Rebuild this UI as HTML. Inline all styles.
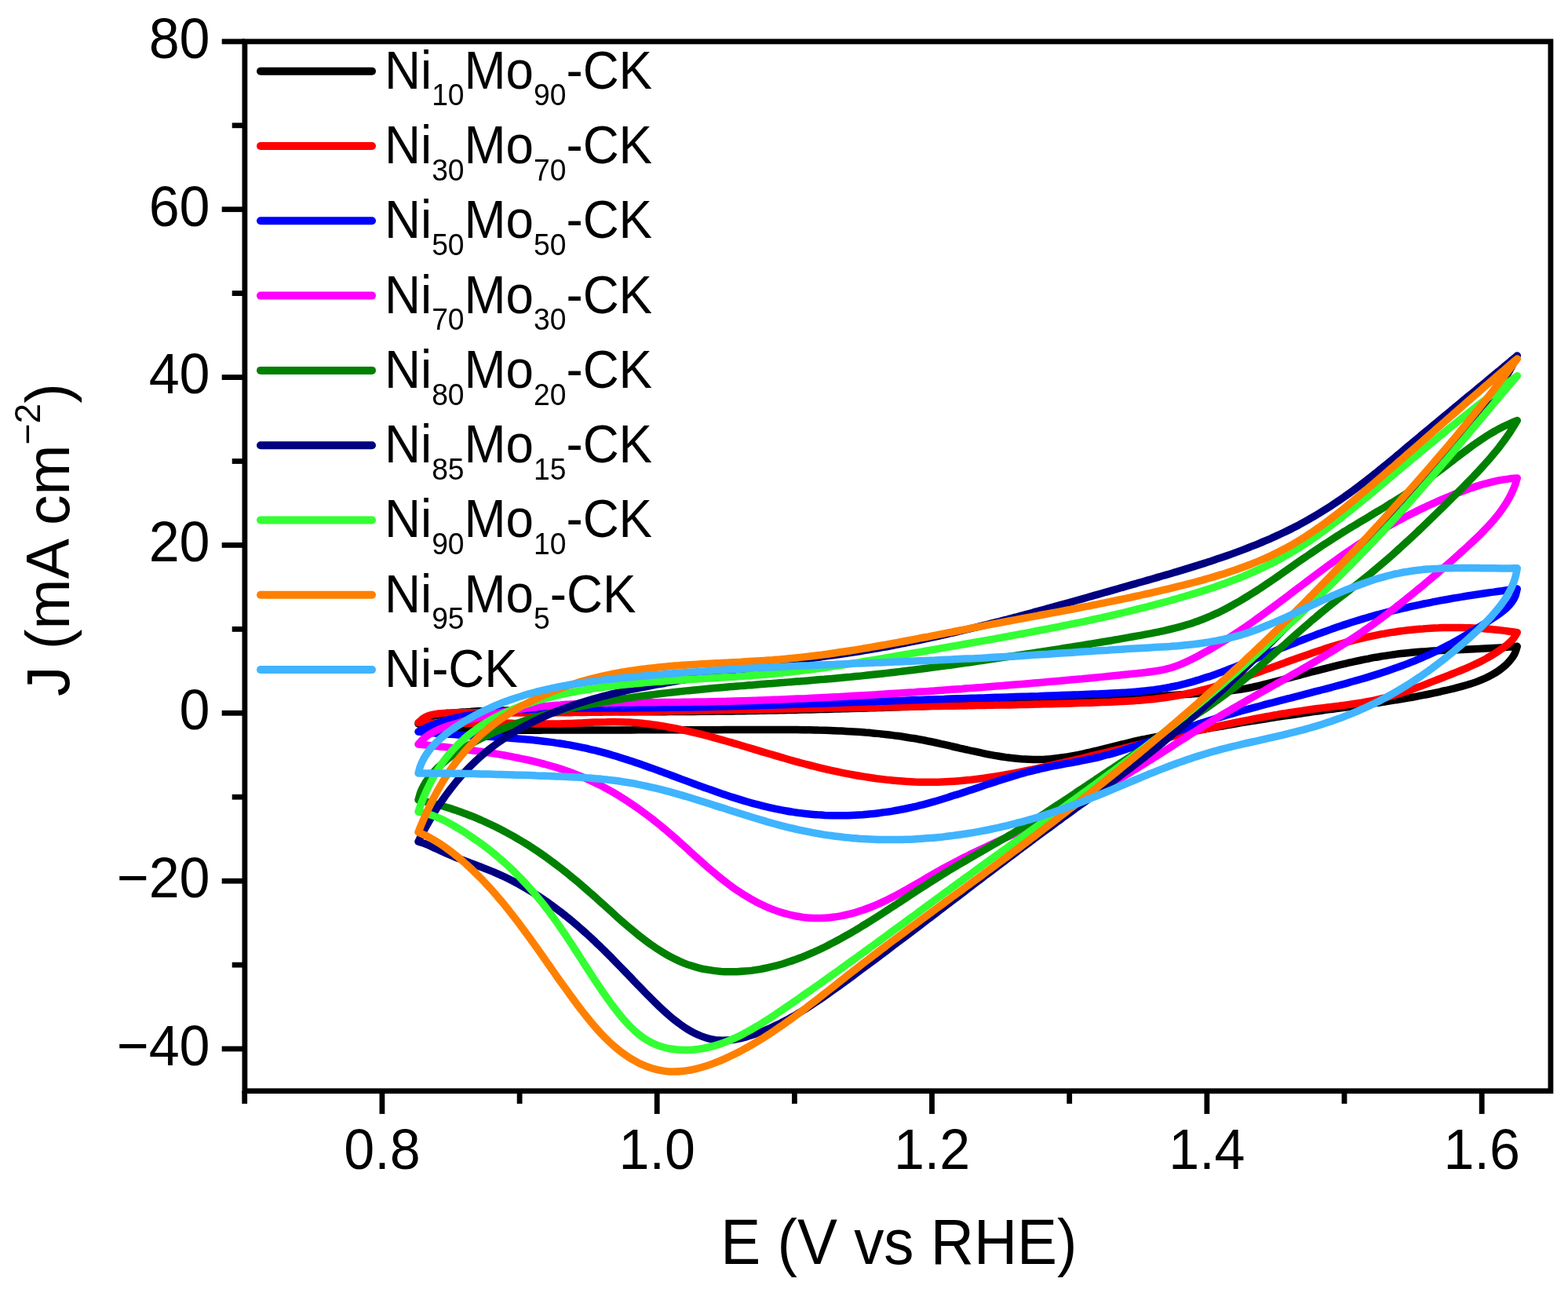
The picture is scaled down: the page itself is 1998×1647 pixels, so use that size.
<!DOCTYPE html>
<html lang="en"><head><meta charset="utf-8"><title>CV curves</title>
<style>html,body{margin:0;padding:0;background:#fff}body{width:1998px;height:1647px;overflow:hidden}svg{display:block}text{font-family:"Liberation Sans",Arial,Helvetica,sans-serif;fill:#000}.c{fill:none;stroke-width:9.5;stroke-linejoin:round;stroke-linecap:round}.a{stroke:#000;stroke-width:6.8;fill:none}.t{font-size:70px}.l{font-size:65px}.s{font-size:38px}.x{font-size:80px}</style></head><body>
<svg xmlns="http://www.w3.org/2000/svg" width="1998" height="1647" viewBox="0 0 1998 1647">
<rect width="1998" height="1647" fill="#fff"/>
<g class="c">
<path stroke="#000000" d="M533.0 922.0C535.9 920.0 538.5 917.5 541.6 915.9C544.5 914.4 547.6 913.4 550.7 912.5C553.8 911.6 557.0 911.2 560.2 910.6C563.4 910.1 566.6 909.6 569.8 909.2C573.0 908.8 576.3 908.4 579.5 908.0C582.8 907.7 586.0 907.4 589.3 907.1C592.6 906.8 595.9 906.6 599.2 906.4C602.5 906.1 605.8 906.0 609.1 905.8C612.4 905.6 615.8 905.5 619.1 905.4C622.5 905.3 625.8 905.2 629.2 905.2C632.5 905.1 635.9 905.1 639.3 905.0C642.7 905.0 646.1 905.0 649.4 905.0C652.8 905.0 656.2 905.0 659.6 905.1C663.0 905.1 666.4 905.1 669.8 905.2C673.2 905.2 676.6 905.3 680.0 905.3C683.5 905.4 686.9 905.5 690.3 905.5C693.7 905.6 697.1 905.6 700.5 905.7C703.9 905.8 707.3 905.8 710.7 905.9C714.1 905.9 717.5 906.0 720.9 906.0C724.3 906.1 727.7 906.1 731.1 906.2C734.5 906.2 737.9 906.2 741.3 906.3C744.7 906.3 748.1 906.4 751.5 906.4C754.9 906.4 758.3 906.5 761.7 906.5C765.1 906.5 768.5 906.5 771.9 906.6C775.2 906.6 778.6 906.6 782.0 906.6C785.4 906.6 788.8 906.6 792.2 906.7C795.6 906.7 798.9 906.7 802.3 906.7C805.7 906.7 809.1 906.7 812.5 906.7C815.8 906.7 819.2 906.7 822.6 906.7C826.0 906.7 829.3 906.7 832.7 906.7C836.1 906.7 839.5 906.7 842.8 906.7C846.2 906.7 849.6 906.6 853.0 906.6C856.3 906.6 859.7 906.6 863.1 906.6C866.4 906.6 869.8 906.5 873.2 906.5C876.5 906.5 879.9 906.5 883.3 906.4C886.6 906.4 890.0 906.4 893.4 906.3C896.7 906.3 900.1 906.3 903.5 906.2C906.8 906.2 910.2 906.2 913.5 906.1C916.9 906.1 920.3 906.0 923.6 906.0C927.0 905.9 930.3 905.9 933.7 905.9C937.0 905.8 940.4 905.8 943.8 905.7C947.1 905.7 950.5 905.6 953.8 905.5C957.2 905.5 960.5 905.4 963.9 905.4C967.2 905.3 970.6 905.3 973.9 905.2C977.3 905.1 980.7 905.1 984.0 905.0C987.4 904.9 990.7 904.9 994.1 904.8C997.4 904.7 1000.8 904.7 1004.1 904.6C1007.5 904.5 1010.8 904.4 1014.2 904.4C1017.5 904.3 1020.8 904.2 1024.2 904.1C1027.5 904.1 1030.9 904.0 1034.2 903.9C1037.6 903.8 1040.9 903.7 1044.3 903.6C1047.6 903.6 1051.0 903.5 1054.3 903.4C1057.7 903.3 1061.0 903.2 1064.3 903.1C1067.7 903.0 1071.0 902.9 1074.4 902.8C1077.7 902.7 1081.1 902.7 1084.4 902.6C1087.8 902.5 1091.1 902.4 1094.4 902.3C1097.8 902.2 1101.1 902.1 1104.5 902.0C1107.8 901.9 1111.2 901.8 1114.5 901.7C1117.8 901.6 1121.2 901.5 1124.5 901.4C1127.9 901.2 1131.2 901.1 1134.6 901.0C1137.9 900.9 1141.2 900.8 1144.6 900.7C1147.9 900.6 1151.3 900.5 1154.6 900.4C1158.0 900.3 1161.3 900.1 1164.6 900.0C1168.0 899.9 1171.3 899.8 1174.7 899.7C1178.0 899.6 1181.4 899.5 1184.7 899.3C1188.0 899.2 1191.4 899.1 1194.7 899.0C1198.1 898.9 1201.4 898.7 1204.8 898.6C1208.1 898.5 1211.4 898.4 1214.8 898.3C1218.1 898.1 1221.5 898.0 1224.8 897.9C1228.2 897.8 1231.5 897.6 1234.8 897.5C1238.2 897.4 1241.5 897.3 1244.9 897.1C1248.2 897.0 1251.6 896.9 1254.9 896.8C1258.3 896.6 1261.6 896.5 1265.0 896.4C1268.3 896.2 1271.7 896.1 1275.0 896.0C1278.3 895.9 1281.7 895.7 1285.0 895.6C1288.4 895.5 1291.7 895.3 1295.1 895.2C1298.4 895.1 1301.8 894.9 1305.1 894.8C1308.5 894.7 1311.8 894.5 1315.2 894.4C1318.5 894.3 1321.9 894.1 1325.3 894.0C1328.6 893.9 1332.0 893.7 1335.3 893.6C1338.7 893.4 1342.0 893.3 1345.4 893.2C1348.7 893.0 1352.1 892.9 1355.4 892.7C1358.8 892.6 1362.1 892.4 1365.5 892.3C1368.8 892.2 1372.2 892.0 1375.5 891.9C1378.9 891.7 1382.2 891.6 1385.6 891.4C1388.9 891.3 1392.3 891.1 1395.7 890.9C1399.0 890.8 1402.4 890.6 1405.7 890.5C1409.1 890.3 1412.4 890.1 1415.8 890.0C1419.1 889.8 1422.5 889.7 1425.8 889.5C1429.2 889.3 1432.5 889.1 1435.9 889.0C1439.2 888.8 1442.5 888.6 1445.9 888.4C1449.2 888.2 1452.6 888.1 1455.9 887.9C1459.3 887.7 1462.6 887.5 1466.0 887.3C1469.3 887.1 1472.7 886.9 1476.0 886.7C1479.3 886.5 1482.7 886.3 1486.0 886.1C1489.4 885.9 1492.7 885.7 1496.0 885.5C1499.4 885.3 1502.7 885.1 1506.0 884.8C1509.4 884.6 1512.7 884.4 1516.0 884.2C1519.4 883.9 1522.7 883.7 1526.0 883.5C1529.4 883.2 1532.7 883.0 1536.0 882.7C1539.3 882.5 1542.7 882.3 1546.0 882.0C1549.3 881.7 1552.6 881.5 1556.0 881.2C1559.3 880.9 1562.6 880.5 1565.9 880.2C1569.2 879.8 1572.6 879.4 1575.9 878.9C1579.2 878.4 1582.5 877.9 1585.8 877.3C1589.1 876.7 1592.4 876.1 1595.7 875.3C1599.0 874.6 1602.3 873.8 1605.6 873.0C1608.9 872.2 1612.2 871.4 1615.5 870.6C1618.8 869.7 1622.1 868.9 1625.4 868.0C1628.7 867.2 1632.0 866.3 1635.3 865.5C1638.6 864.6 1641.9 863.7 1645.2 862.9C1648.4 862.0 1651.7 861.1 1655.0 860.3C1658.3 859.4 1661.6 858.5 1664.9 857.7C1668.1 856.8 1671.4 855.9 1674.7 855.1C1678.0 854.2 1681.3 853.4 1684.6 852.6C1687.8 851.7 1691.1 850.9 1694.4 850.1C1697.7 849.3 1701.0 848.5 1704.2 847.7C1707.5 846.9 1710.8 846.1 1714.1 845.3C1717.4 844.6 1720.6 843.8 1723.9 843.1C1727.2 842.4 1730.5 841.7 1733.8 841.0C1737.0 840.3 1740.3 839.7 1743.6 839.1C1746.9 838.4 1750.2 837.8 1753.5 837.2C1756.7 836.7 1760.0 836.1 1763.3 835.6C1766.6 835.1 1769.9 834.6 1773.2 834.1C1776.5 833.6 1779.8 833.2 1783.1 832.8C1786.4 832.4 1789.7 832.1 1793.0 831.7C1796.3 831.4 1799.6 831.1 1802.9 830.8C1806.2 830.5 1809.5 830.2 1812.8 830.0C1816.1 829.8 1819.4 829.5 1822.7 829.3C1826.0 829.1 1829.3 828.9 1832.7 828.7C1836.0 828.6 1839.3 828.4 1842.6 828.2C1845.9 828.1 1849.3 827.9 1852.6 827.8C1855.9 827.6 1859.3 827.5 1862.6 827.4C1865.9 827.2 1869.3 827.1 1872.6 826.9C1876.0 826.8 1879.3 826.7 1882.7 826.5C1886.0 826.3 1889.4 826.2 1892.7 826.0C1896.1 825.9 1899.5 825.7 1902.8 825.5C1906.2 825.3 1909.6 825.1 1913.0 824.9C1916.4 824.6 1919.7 824.4 1923.1 824.1C1926.5 823.9 1929.9 823.6 1933.3 823.3C1932.2 826.4 1931.6 829.7 1930.1 832.6C1928.7 835.5 1926.7 838.2 1924.6 840.8C1922.6 843.3 1920.2 845.7 1917.8 847.9C1915.4 850.0 1912.8 852.1 1910.1 854.0C1907.4 855.9 1904.6 857.6 1901.8 859.2C1898.9 860.9 1895.9 862.4 1892.9 863.8C1889.9 865.2 1886.8 866.4 1883.7 867.6C1880.5 868.9 1877.3 870.0 1874.0 871.0C1870.8 872.1 1867.5 873.0 1864.2 873.9C1860.9 874.9 1857.5 875.7 1854.2 876.6C1850.8 877.4 1847.5 878.2 1844.2 879.0C1840.8 879.8 1837.5 880.6 1834.2 881.3C1830.8 882.0 1827.5 882.7 1824.2 883.4C1820.8 884.1 1817.5 884.8 1814.2 885.4C1810.8 886.1 1807.5 886.7 1804.2 887.3C1800.9 887.9 1797.5 888.5 1794.2 889.1C1790.9 889.7 1787.6 890.3 1784.2 890.8C1780.9 891.4 1777.6 891.9 1774.3 892.4C1771.0 892.9 1767.7 893.5 1764.3 894.0C1761.0 894.5 1757.7 894.9 1754.4 895.4C1751.1 895.9 1747.8 896.4 1744.5 896.9C1741.2 897.3 1737.9 897.8 1734.5 898.2C1731.2 898.7 1727.9 899.2 1724.6 899.6C1721.3 900.1 1718.0 900.5 1714.7 901.0C1711.4 901.4 1708.1 901.8 1704.8 902.3C1701.5 902.7 1698.2 903.2 1694.9 903.6C1691.6 904.1 1688.3 904.6 1685.0 905.0C1681.7 905.5 1678.5 905.9 1675.2 906.4C1671.9 906.9 1668.6 907.3 1665.3 907.8C1662.0 908.3 1658.7 908.7 1655.4 909.2C1652.1 909.7 1648.8 910.2 1645.6 910.7C1642.3 911.1 1639.0 911.6 1635.7 912.1C1632.4 912.6 1629.1 913.1 1625.8 913.6C1622.6 914.1 1619.3 914.6 1616.0 915.2C1612.7 915.7 1609.4 916.2 1606.2 916.7C1602.9 917.2 1599.6 917.8 1596.3 918.3C1593.0 918.8 1589.8 919.4 1586.5 919.9C1583.2 920.5 1579.9 921.0 1576.7 921.6C1573.4 922.1 1570.1 922.7 1566.8 923.3C1563.5 923.8 1560.3 924.4 1557.0 925.0C1553.7 925.6 1550.4 926.1 1547.2 926.7C1543.9 927.3 1540.6 927.8 1537.3 928.4C1534.1 929.0 1530.8 929.5 1527.5 930.1C1524.3 930.6 1521.0 931.2 1517.7 931.7C1514.4 932.2 1511.2 932.8 1507.9 933.3C1504.6 933.8 1501.3 934.3 1498.1 934.8C1494.8 935.3 1491.5 935.7 1488.3 936.2C1485.0 936.7 1481.7 937.2 1478.4 937.7C1475.2 938.3 1471.9 938.8 1468.6 939.4C1465.3 940.0 1462.1 940.7 1458.8 941.4C1455.5 942.0 1452.2 942.8 1449.0 943.5C1445.7 944.2 1442.4 945.0 1439.2 945.8C1435.9 946.6 1432.6 947.4 1429.3 948.2C1426.1 949.0 1422.8 949.8 1419.5 950.7C1416.2 951.5 1413.0 952.3 1409.7 953.1C1406.4 953.9 1403.1 954.8 1399.9 955.6C1396.6 956.4 1393.3 957.1 1390.0 957.9C1386.7 958.6 1383.5 959.4 1380.2 960.1C1376.9 960.8 1373.6 961.5 1370.3 962.1C1367.1 962.7 1363.8 963.3 1360.5 963.9C1357.2 964.4 1353.9 964.9 1350.7 965.3C1347.4 965.7 1344.1 966.1 1340.8 966.4C1337.5 966.8 1334.2 967.0 1330.9 967.2C1327.7 967.3 1324.4 967.4 1321.1 967.5C1317.8 967.5 1314.5 967.4 1311.2 967.3C1307.9 967.2 1304.6 967.0 1301.3 966.8C1298.0 966.5 1294.8 966.2 1291.5 965.8C1288.2 965.5 1284.9 965.0 1281.6 964.6C1278.3 964.1 1275.0 963.6 1271.7 963.0C1268.4 962.5 1265.1 961.9 1261.8 961.3C1258.5 960.7 1255.2 960.0 1251.9 959.3C1248.6 958.7 1245.3 957.9 1242.0 957.2C1238.7 956.5 1235.4 955.8 1232.1 955.0C1228.8 954.3 1225.5 953.5 1222.2 952.8C1218.9 952.0 1215.6 951.2 1212.3 950.5C1209.0 949.7 1205.7 949.0 1202.3 948.2C1199.0 947.5 1195.7 946.7 1192.4 946.0C1189.1 945.3 1185.8 944.6 1182.5 944.0C1179.2 943.3 1175.9 942.6 1172.6 942.0C1169.2 941.4 1165.9 940.8 1162.6 940.3C1159.3 939.7 1156.0 939.2 1152.7 938.7C1149.4 938.2 1146.0 937.7 1142.7 937.3C1139.4 936.9 1136.1 936.4 1132.8 936.0C1129.5 935.6 1126.1 935.3 1122.8 934.9C1119.5 934.6 1116.2 934.2 1112.9 933.9C1109.6 933.6 1106.2 933.3 1102.9 933.1C1099.6 932.8 1096.3 932.5 1093.0 932.3C1089.6 932.1 1086.3 931.9 1083.0 931.7C1079.7 931.5 1076.3 931.3 1073.0 931.1C1069.7 931.0 1066.4 930.8 1063.0 930.7C1059.7 930.6 1056.4 930.4 1053.1 930.3C1049.7 930.2 1046.4 930.1 1043.1 930.1C1039.8 930.0 1036.4 929.9 1033.1 929.8C1029.8 929.8 1026.5 929.7 1023.1 929.7C1019.8 929.6 1016.5 929.6 1013.2 929.6C1009.8 929.5 1006.5 929.5 1003.2 929.5C999.8 929.5 996.5 929.5 993.2 929.5C989.8 929.5 986.5 929.5 983.2 929.5C979.9 929.5 976.5 929.5 973.2 929.5C969.9 929.5 966.5 929.5 963.2 929.5C959.9 929.5 956.5 929.5 953.2 929.6C949.9 929.6 946.5 929.6 943.2 929.6C939.9 929.6 936.5 929.6 933.2 929.6C929.9 929.6 926.5 929.6 923.2 929.6C919.9 929.6 916.5 929.6 913.2 929.7C909.9 929.7 906.5 929.7 903.2 929.7C899.9 929.7 896.5 929.7 893.2 929.7C889.9 929.7 886.5 929.7 883.2 929.7C879.8 929.7 876.5 929.7 873.2 929.7C869.8 929.7 866.5 929.7 863.2 929.8C859.8 929.8 856.5 929.8 853.2 929.8C849.8 929.8 846.5 929.8 843.1 929.8C839.8 929.8 836.5 929.8 833.1 929.8C829.8 929.8 826.5 929.8 823.1 929.8C819.8 929.8 816.4 929.8 813.1 929.8C809.8 929.9 806.4 929.9 803.1 929.9C799.8 929.9 796.4 929.9 793.1 929.9C789.7 929.9 786.4 929.9 783.1 929.9C779.7 929.9 776.4 929.9 773.1 929.9C769.7 929.9 766.4 929.9 763.0 929.9C759.7 930.0 756.4 930.0 753.0 930.0C749.7 930.0 746.4 930.0 743.0 930.0C739.7 930.0 736.3 930.0 733.0 930.0C729.7 930.0 726.3 930.0 723.0 930.0C719.7 930.1 716.3 930.1 713.0 930.1C709.6 930.1 706.3 930.1 703.0 930.1C699.6 930.1 696.3 930.1 693.0 930.1C689.6 930.1 686.3 930.2 683.0 930.2C679.6 930.2 676.3 930.2 672.9 930.2C669.6 930.2 666.3 930.2 662.9 930.2C659.6 930.2 656.3 930.2 652.9 930.2C649.6 930.2 646.3 930.2 642.9 930.2C639.6 930.2 636.3 930.1 632.9 930.1C629.6 930.0 626.3 930.0 622.9 929.9C619.6 929.8 616.3 929.7 612.9 929.6C609.6 929.5 606.3 929.4 602.9 929.2C599.6 929.1 596.3 928.9 592.9 928.7C589.6 928.5 586.3 928.3 582.9 928.1C579.6 927.8 576.3 927.5 572.9 927.2C569.6 926.9 566.3 926.6 563.0 926.2C559.6 925.9 556.3 925.5 553.0 925.0C549.6 924.6 546.3 924.1 543.0 923.6C539.6 923.1 536.3 922.5 533.0 922.0Z"/>
<path stroke="#ff0000" d="M533.0 920.5C535.6 918.4 537.9 915.7 540.8 914.1C543.5 912.5 546.6 911.4 549.7 910.6C552.8 909.7 556.0 909.3 559.2 908.9C562.5 908.5 565.9 908.3 569.2 908.1C572.6 907.9 576.0 907.8 579.4 907.7C582.8 907.7 586.2 907.7 589.7 907.7C593.1 907.7 596.6 907.7 600.0 907.8C603.5 907.8 606.9 907.9 610.4 907.9C613.8 907.9 617.2 907.9 620.6 908.0C624.1 908.0 627.5 908.0 630.9 908.0C634.3 908.0 637.7 908.0 641.1 908.1C644.4 908.1 647.8 908.1 651.2 908.1C654.6 908.1 658.0 908.1 661.3 908.1C664.7 908.1 668.0 908.1 671.4 908.0C674.8 908.0 678.1 908.0 681.5 908.0C684.8 908.0 688.1 908.0 691.5 907.9C694.8 907.9 698.1 907.9 701.5 907.9C704.8 907.8 708.1 907.8 711.5 907.8C714.8 907.8 718.1 907.7 721.4 907.7C724.7 907.7 728.1 907.6 731.4 907.6C734.7 907.5 738.0 907.5 741.3 907.5C744.6 907.4 747.9 907.4 751.2 907.3C754.6 907.3 757.9 907.2 761.2 907.2C764.5 907.2 767.8 907.1 771.1 907.1C774.4 907.0 777.7 907.0 781.0 906.9C784.3 906.9 787.7 906.8 791.0 906.8C794.3 906.7 797.6 906.6 800.9 906.6C804.2 906.5 807.6 906.5 810.9 906.4C814.2 906.4 817.5 906.3 820.8 906.3C824.2 906.2 827.5 906.2 830.8 906.1C834.2 906.1 837.5 906.0 840.8 905.9C844.2 905.9 847.5 905.8 850.8 905.8C854.2 905.7 857.5 905.7 860.8 905.6C864.2 905.5 867.5 905.5 870.9 905.4C874.2 905.4 877.6 905.3 880.9 905.3C884.2 905.2 887.6 905.1 890.9 905.1C894.3 905.0 897.6 905.0 901.0 904.9C904.3 904.8 907.7 904.8 911.0 904.7C914.4 904.7 917.8 904.6 921.1 904.5C924.5 904.5 927.8 904.4 931.2 904.4C934.5 904.3 937.9 904.2 941.3 904.2C944.6 904.1 948.0 904.1 951.3 904.0C954.7 903.9 958.1 903.9 961.4 903.8C964.8 903.7 968.2 903.7 971.5 903.6C974.9 903.6 978.3 903.5 981.6 903.4C985.0 903.4 988.4 903.3 991.7 903.2C995.1 903.2 998.5 903.1 1001.8 903.1C1005.2 903.0 1008.6 902.9 1012.0 902.9C1015.3 902.8 1018.7 902.7 1022.1 902.7C1025.4 902.6 1028.8 902.6 1032.2 902.5C1035.6 902.4 1038.9 902.4 1042.3 902.3C1045.7 902.2 1049.1 902.2 1052.4 902.1C1055.8 902.1 1059.2 902.0 1062.6 901.9C1065.9 901.9 1069.3 901.8 1072.7 901.7C1076.1 901.7 1079.4 901.6 1082.8 901.5C1086.2 901.5 1089.6 901.4 1092.9 901.4C1096.3 901.3 1099.7 901.2 1103.1 901.2C1106.4 901.1 1109.8 901.0 1113.2 901.0C1116.6 900.9 1119.9 900.9 1123.3 900.8C1126.7 900.7 1130.1 900.7 1133.4 900.6C1136.8 900.5 1140.2 900.5 1143.5 900.4C1146.9 900.4 1150.3 900.3 1153.7 900.2C1157.0 900.2 1160.4 900.1 1163.8 900.1C1167.2 900.0 1170.5 899.9 1173.9 899.9C1177.3 899.8 1180.6 899.8 1184.0 899.7C1187.4 899.6 1190.7 899.6 1194.1 899.5C1197.5 899.5 1200.8 899.4 1204.2 899.3C1207.6 899.3 1210.9 899.2 1214.3 899.2C1217.7 899.1 1221.0 899.0 1224.4 899.0C1227.8 898.9 1231.1 898.9 1234.5 898.8C1237.8 898.7 1241.2 898.7 1244.6 898.6C1247.9 898.6 1251.3 898.5 1254.6 898.4C1258.0 898.4 1261.3 898.3 1264.7 898.3C1268.0 898.2 1271.4 898.1 1274.7 898.1C1278.1 898.0 1281.4 897.9 1284.8 897.9C1288.1 897.8 1291.5 897.7 1294.8 897.7C1298.2 897.6 1301.5 897.5 1304.9 897.4C1308.2 897.4 1311.5 897.3 1314.9 897.2C1318.2 897.1 1321.6 897.1 1324.9 897.0C1328.2 896.9 1331.6 896.8 1334.9 896.7C1338.2 896.7 1341.6 896.6 1344.9 896.5C1348.2 896.4 1351.5 896.3 1354.9 896.2C1358.2 896.1 1361.5 896.0 1364.8 895.9C1368.2 895.8 1371.5 895.7 1374.8 895.6C1378.1 895.5 1381.4 895.4 1384.8 895.3C1388.1 895.2 1391.4 895.1 1394.7 895.0C1398.0 894.9 1401.3 894.8 1404.6 894.6C1407.9 894.5 1411.2 894.4 1414.5 894.3C1417.8 894.1 1421.1 894.0 1424.4 893.8C1427.7 893.7 1431.0 893.5 1434.3 893.3C1437.6 893.1 1440.9 892.9 1444.1 892.7C1447.4 892.5 1450.7 892.2 1454.0 892.0C1457.3 891.7 1460.6 891.4 1463.8 891.1C1467.1 890.8 1470.4 890.4 1473.6 890.0C1476.9 889.6 1480.2 889.2 1483.4 888.8C1486.7 888.3 1490.0 887.8 1493.2 887.3C1496.5 886.7 1499.8 886.2 1503.0 885.5C1506.3 884.9 1509.5 884.2 1512.8 883.5C1516.0 882.8 1519.2 882.1 1522.5 881.3C1525.7 880.6 1529.0 879.7 1532.2 878.9C1535.4 878.1 1538.7 877.2 1541.9 876.3C1545.2 875.4 1548.4 874.4 1551.6 873.5C1554.8 872.5 1558.1 871.5 1561.3 870.5C1564.5 869.5 1567.7 868.5 1571.0 867.4C1574.2 866.4 1577.4 865.3 1580.6 864.2C1583.9 863.2 1587.1 862.0 1590.3 860.9C1593.5 859.8 1596.7 858.7 1599.9 857.6C1603.2 856.4 1606.4 855.3 1609.6 854.1C1612.8 853.0 1616.0 851.8 1619.2 850.7C1622.4 849.5 1625.7 848.3 1628.9 847.2C1632.1 846.0 1635.3 844.8 1638.5 843.7C1641.7 842.5 1644.9 841.4 1648.2 840.2C1651.4 839.1 1654.6 837.9 1657.8 836.8C1661.0 835.6 1664.2 834.5 1667.4 833.4C1670.7 832.3 1673.9 831.2 1677.1 830.1C1680.3 829.0 1683.5 828.0 1686.7 826.9C1690.0 825.9 1693.2 824.8 1696.4 823.8C1699.6 822.8 1702.8 821.9 1706.1 820.9C1709.3 820.0 1712.5 819.0 1715.7 818.1C1719.0 817.2 1722.2 816.4 1725.4 815.5C1728.7 814.7 1731.9 813.9 1735.1 813.1C1738.4 812.3 1741.6 811.6 1744.8 810.9C1748.1 810.2 1751.3 809.5 1754.6 808.9C1757.8 808.2 1761.0 807.6 1764.3 807.1C1767.5 806.5 1770.8 806.0 1774.1 805.4C1777.3 804.9 1780.6 804.5 1783.8 804.0C1787.1 803.6 1790.3 803.2 1793.6 802.8C1796.9 802.4 1800.2 802.0 1803.4 801.7C1806.7 801.4 1810.0 801.1 1813.3 800.9C1816.5 800.6 1819.8 800.4 1823.1 800.2C1826.4 800.0 1829.7 799.9 1833.0 799.8C1836.3 799.6 1839.6 799.6 1842.9 799.5C1846.2 799.4 1849.5 799.4 1852.8 799.4C1856.1 799.4 1859.4 799.5 1862.8 799.5C1866.1 799.6 1869.4 799.7 1872.7 799.8C1876.1 800.0 1879.4 800.1 1882.8 800.3C1886.1 800.5 1889.5 800.7 1892.8 801.0C1896.2 801.3 1899.5 801.5 1902.9 801.9C1906.2 802.2 1909.6 802.5 1913.0 802.9C1916.4 803.3 1919.7 803.7 1923.1 804.2C1926.5 804.6 1929.9 805.1 1933.3 805.6C1931.6 808.3 1930.1 811.3 1928.1 813.8C1926.0 816.4 1923.4 818.7 1920.9 820.9C1918.3 823.2 1915.4 825.2 1912.6 827.2C1909.8 829.2 1906.9 831.1 1904.0 832.9C1901.1 834.7 1898.2 836.4 1895.3 838.0C1892.4 839.7 1889.4 841.2 1886.5 842.7C1883.5 844.2 1880.5 845.6 1877.5 847.0C1874.6 848.4 1871.5 849.8 1868.5 851.1C1865.5 852.4 1862.5 853.6 1859.4 854.9C1856.3 856.1 1853.3 857.3 1850.2 858.5C1847.1 859.8 1844.0 860.9 1840.9 862.2C1837.8 863.4 1834.7 864.6 1831.6 865.8C1828.5 867.0 1825.3 868.2 1822.2 869.4C1819.1 870.7 1815.9 871.9 1812.8 873.1C1809.6 874.3 1806.4 875.4 1803.2 876.6C1800.1 877.8 1796.9 878.9 1793.7 880.0C1790.5 881.1 1787.3 882.2 1784.1 883.2C1780.9 884.2 1777.7 885.2 1774.4 886.2C1771.2 887.1 1768.0 888.0 1764.7 888.9C1761.5 889.7 1758.3 890.5 1755.0 891.2C1751.8 891.9 1748.5 892.6 1745.3 893.2C1742.0 893.9 1738.8 894.4 1735.5 895.0C1732.2 895.5 1729.0 896.0 1725.7 896.5C1722.4 897.0 1719.2 897.4 1715.9 897.9C1712.6 898.3 1709.3 898.7 1706.1 899.2C1702.8 899.6 1699.5 900.0 1696.2 900.4C1692.9 900.8 1689.7 901.2 1686.4 901.6C1683.1 902.0 1679.8 902.4 1676.5 902.8C1673.2 903.3 1670.0 903.7 1666.7 904.2C1663.4 904.7 1660.1 905.1 1656.8 905.6C1653.6 906.1 1650.3 906.6 1647.0 907.1C1643.7 907.6 1640.4 908.2 1637.2 908.7C1633.9 909.3 1630.6 909.8 1627.3 910.4C1624.0 910.9 1620.8 911.5 1617.5 912.1C1614.2 912.7 1610.9 913.3 1607.6 913.9C1604.4 914.5 1601.1 915.1 1597.8 915.7C1594.5 916.4 1591.2 917.0 1588.0 917.7C1584.7 918.3 1581.4 919.0 1578.1 919.6C1574.8 920.3 1571.6 921.0 1568.3 921.6C1565.0 922.3 1561.7 923.0 1558.4 923.7C1555.2 924.4 1551.9 925.1 1548.6 925.8C1545.3 926.5 1542.1 927.2 1538.8 928.0C1535.5 928.7 1532.2 929.4 1528.9 930.1C1525.7 930.9 1522.4 931.6 1519.1 932.4C1515.8 933.1 1512.6 933.9 1509.3 934.6C1506.0 935.4 1502.7 936.1 1499.5 936.9C1496.2 937.7 1492.9 938.4 1489.6 939.2C1486.4 940.0 1483.1 940.7 1479.8 941.5C1476.5 942.3 1473.3 943.1 1470.0 943.9C1466.7 944.6 1463.4 945.4 1460.2 946.2C1456.9 947.0 1453.6 947.8 1450.3 948.6C1447.1 949.4 1443.8 950.1 1440.5 950.9C1437.2 951.7 1434.0 952.5 1430.7 953.3C1427.4 954.1 1424.1 954.9 1420.9 955.7C1417.6 956.5 1414.3 957.2 1411.1 958.0C1407.8 958.8 1404.5 959.6 1401.2 960.4C1398.0 961.2 1394.7 962.0 1391.4 962.7C1388.2 963.5 1384.9 964.3 1381.6 965.1C1378.3 965.9 1375.1 966.6 1371.8 967.4C1368.5 968.2 1365.3 968.9 1362.0 969.7C1358.7 970.4 1355.4 971.2 1352.2 972.0C1348.9 972.7 1345.6 973.5 1342.4 974.2C1339.1 974.9 1335.8 975.7 1332.6 976.4C1329.3 977.1 1326.0 977.8 1322.8 978.6C1319.5 979.3 1316.2 980.0 1313.0 980.6C1309.7 981.3 1306.4 982.0 1303.1 982.7C1299.9 983.3 1296.6 984.0 1293.3 984.6C1290.1 985.2 1286.8 985.8 1283.5 986.4C1280.3 987.0 1277.0 987.6 1273.7 988.1C1270.5 988.7 1267.2 989.2 1263.9 989.7C1260.7 990.2 1257.4 990.7 1254.1 991.1C1250.9 991.6 1247.6 992.0 1244.3 992.4C1241.1 992.8 1237.8 993.2 1234.5 993.6C1231.3 993.9 1228.0 994.2 1224.7 994.5C1221.5 994.8 1218.2 995.1 1214.9 995.3C1211.7 995.5 1208.4 995.7 1205.1 995.8C1201.9 996.0 1198.6 996.1 1195.3 996.2C1192.1 996.3 1188.8 996.3 1185.5 996.3C1182.3 996.3 1179.0 996.3 1175.7 996.2C1172.5 996.2 1169.2 996.1 1165.9 996.0C1162.7 995.8 1159.4 995.7 1156.1 995.5C1152.9 995.3 1149.6 995.1 1146.3 994.8C1143.1 994.5 1139.8 994.2 1136.5 993.9C1133.3 993.6 1130.0 993.3 1126.7 992.9C1123.5 992.5 1120.2 992.1 1116.9 991.7C1113.6 991.2 1110.4 990.8 1107.1 990.3C1103.8 989.8 1100.6 989.3 1097.3 988.7C1094.0 988.2 1090.8 987.6 1087.5 987.0C1084.2 986.4 1081.0 985.8 1077.7 985.2C1074.4 984.5 1071.1 983.9 1067.9 983.2C1064.6 982.5 1061.3 981.8 1058.1 981.1C1054.8 980.3 1051.5 979.6 1048.3 978.8C1045.0 978.0 1041.7 977.2 1038.4 976.4C1035.2 975.6 1031.9 974.8 1028.6 973.9C1025.3 973.1 1022.1 972.2 1018.8 971.3C1015.5 970.4 1012.2 969.5 1009.0 968.6C1005.7 967.7 1002.4 966.7 999.2 965.8C995.9 964.8 992.6 963.9 989.3 962.9C986.0 962.0 982.8 961.0 979.5 960.0C976.2 959.0 972.9 958.1 969.7 957.1C966.4 956.1 963.1 955.1 959.8 954.1C956.5 953.2 953.3 952.2 950.0 951.2C946.7 950.2 943.4 949.2 940.2 948.3C936.9 947.3 933.6 946.4 930.3 945.4C927.0 944.5 923.7 943.5 920.5 942.6C917.2 941.7 913.9 940.8 910.6 939.9C907.3 939.0 904.0 938.1 900.8 937.2C897.5 936.4 894.2 935.5 890.9 934.7C887.6 933.9 884.3 933.1 881.0 932.3C877.8 931.5 874.5 930.8 871.2 930.1C867.9 929.4 864.6 928.7 861.3 928.0C858.0 927.3 854.7 926.7 851.4 926.1C848.2 925.5 844.9 925.0 841.6 924.4C838.3 923.9 835.0 923.4 831.7 923.0C828.4 922.5 825.1 922.1 821.8 921.8C818.5 921.4 815.2 921.1 811.9 920.8C808.6 920.5 805.3 920.3 802.0 920.1C798.7 919.9 795.4 919.8 792.1 919.7C788.8 919.6 785.5 919.6 782.2 919.6C778.9 919.6 775.6 919.6 772.3 919.7C769.0 919.7 765.7 919.8 762.4 919.9C759.1 920.0 755.8 920.2 752.5 920.3C749.2 920.4 745.9 920.6 742.6 920.8C739.3 920.9 736.0 921.1 732.7 921.2C729.4 921.3 726.1 921.5 722.7 921.6C719.4 921.7 716.1 921.8 712.8 921.9C709.5 922.0 706.2 922.1 702.9 922.1C699.6 922.1 696.2 922.1 692.9 922.1C689.6 922.1 686.3 922.0 683.0 922.0C679.7 921.9 676.3 921.8 673.0 921.7C669.7 921.6 666.4 921.5 663.1 921.4C659.7 921.3 656.4 921.2 653.1 921.2C649.8 921.1 646.4 921.0 643.1 921.0C639.8 921.0 636.5 921.0 633.1 921.0C629.8 921.0 626.5 921.0 623.2 921.0C619.8 921.0 616.5 921.1 613.2 921.1C609.8 921.1 606.5 921.2 603.2 921.2C599.8 921.3 596.5 921.3 593.2 921.3C589.8 921.4 586.5 921.4 583.2 921.4C579.8 921.4 576.5 921.5 573.1 921.5C569.8 921.5 566.5 921.4 563.1 921.4C559.8 921.4 556.4 921.3 553.1 921.3C549.7 921.2 546.4 921.1 543.0 921.0C539.7 920.8 536.3 920.7 533.0 920.5Z"/>
<path stroke="#0000ff" d="M533.0 932.0C536.0 930.5 538.9 928.8 542.0 927.4C545.0 925.9 548.1 924.6 551.2 923.4C554.3 922.2 557.4 921.0 560.6 920.0C563.8 918.9 567.0 918.0 570.2 917.1C573.5 916.2 576.7 915.4 580.0 914.6C583.3 913.9 586.6 913.2 589.9 912.5C593.2 911.9 596.5 911.3 599.8 910.8C603.1 910.3 606.5 909.8 609.8 909.3C613.2 908.9 616.5 908.5 619.8 908.1C623.2 907.7 626.5 907.3 629.8 907.0C633.2 906.6 636.5 906.3 639.8 906.0C643.2 905.7 646.5 905.5 649.8 905.2C653.1 904.9 656.5 904.7 659.8 904.5C663.1 904.3 666.4 904.1 669.7 903.9C673.1 903.7 676.4 903.6 679.7 903.4C683.0 903.3 686.3 903.1 689.6 903.0C692.9 902.9 696.2 902.8 699.6 902.7C702.9 902.6 706.2 902.5 709.5 902.4C712.8 902.4 716.1 902.3 719.4 902.2C722.7 902.2 726.0 902.1 729.3 902.1C732.6 902.1 736.0 902.0 739.3 902.0C742.6 902.0 745.9 902.0 749.2 902.0C752.5 901.9 755.8 901.9 759.1 901.9C762.4 901.9 765.7 901.9 769.1 901.9C772.4 901.9 775.7 901.9 779.0 901.9C782.3 901.9 785.6 901.9 789.0 901.9C792.3 901.9 795.6 901.9 798.9 901.9C802.3 901.9 805.6 901.8 808.9 901.8C812.3 901.8 815.6 901.8 818.9 901.7C822.3 901.7 825.6 901.7 828.9 901.7C832.3 901.6 835.6 901.6 838.9 901.6C842.3 901.5 845.6 901.5 849.0 901.4C852.3 901.4 855.7 901.3 859.0 901.3C862.4 901.2 865.7 901.2 869.1 901.1C872.4 901.0 875.8 901.0 879.1 900.9C882.5 900.9 885.8 900.8 889.2 900.7C892.6 900.7 895.9 900.6 899.3 900.5C902.6 900.4 906.0 900.4 909.4 900.3C912.7 900.2 916.1 900.1 919.5 900.0C922.8 899.9 926.2 899.9 929.6 899.8C932.9 899.7 936.3 899.6 939.7 899.5C943.0 899.4 946.4 899.3 949.8 899.2C953.2 899.1 956.5 899.0 959.9 898.9C963.3 898.8 966.7 898.7 970.0 898.6C973.4 898.5 976.8 898.4 980.2 898.3C983.5 898.2 986.9 898.1 990.3 898.0C993.7 897.9 997.1 897.8 1000.4 897.7C1003.8 897.5 1007.2 897.4 1010.6 897.3C1014.0 897.2 1017.3 897.1 1020.7 897.0C1024.1 896.9 1027.5 896.7 1030.9 896.6C1034.2 896.5 1037.6 896.4 1041.0 896.3C1044.4 896.1 1047.8 896.0 1051.2 895.9C1054.5 895.8 1057.9 895.7 1061.3 895.5C1064.7 895.4 1068.1 895.3 1071.4 895.2C1074.8 895.0 1078.2 894.9 1081.6 894.8C1085.0 894.7 1088.4 894.5 1091.7 894.4C1095.1 894.3 1098.5 894.2 1101.9 894.0C1105.3 893.9 1108.6 893.8 1112.0 893.7C1115.4 893.6 1118.8 893.4 1122.1 893.3C1125.5 893.2 1128.9 893.1 1132.3 892.9C1135.7 892.8 1139.0 892.7 1142.4 892.6C1145.8 892.4 1149.2 892.3 1152.5 892.2C1155.9 892.1 1159.3 892.0 1162.7 891.8C1166.0 891.7 1169.4 891.6 1172.8 891.5C1176.1 891.4 1179.5 891.3 1182.9 891.1C1186.2 891.0 1189.6 890.9 1193.0 890.8C1196.3 890.7 1199.7 890.6 1203.1 890.5C1206.4 890.3 1209.8 890.2 1213.1 890.1C1216.5 890.0 1219.9 889.9 1223.2 889.8C1226.6 889.7 1229.9 889.6 1233.3 889.5C1236.6 889.4 1240.0 889.3 1243.3 889.2C1246.7 889.1 1250.0 889.0 1253.4 888.9C1256.7 888.7 1260.1 888.6 1263.4 888.5C1266.8 888.4 1270.1 888.3 1273.5 888.2C1276.8 888.1 1280.1 888.0 1283.5 887.9C1286.8 887.8 1290.1 887.7 1293.5 887.6C1296.8 887.5 1300.1 887.4 1303.5 887.3C1306.8 887.2 1310.1 887.1 1313.4 887.0C1316.8 886.9 1320.1 886.8 1323.4 886.7C1326.7 886.5 1330.0 886.4 1333.3 886.3C1336.7 886.2 1340.0 886.1 1343.3 886.0C1346.6 885.9 1349.9 885.8 1353.2 885.6C1356.5 885.5 1359.8 885.4 1363.1 885.3C1366.4 885.2 1369.7 885.0 1373.0 884.9C1376.3 884.8 1379.6 884.7 1382.9 884.5C1386.1 884.4 1389.4 884.3 1392.7 884.1C1396.0 884.0 1399.3 883.9 1402.5 883.7C1405.8 883.6 1409.1 883.5 1412.4 883.3C1415.6 883.2 1418.9 883.0 1422.2 882.8C1425.4 882.7 1428.7 882.5 1431.9 882.3C1435.2 882.1 1438.4 881.8 1441.7 881.6C1444.9 881.3 1448.2 881.1 1451.4 880.8C1454.7 880.5 1457.9 880.1 1461.1 879.8C1464.4 879.4 1467.6 879.0 1470.8 878.6C1474.1 878.1 1477.3 877.7 1480.5 877.1C1483.7 876.6 1486.9 876.1 1490.2 875.5C1493.4 874.8 1496.6 874.2 1499.8 873.5C1503.0 872.7 1506.2 872.0 1509.4 871.2C1512.6 870.3 1515.8 869.5 1519.0 868.6C1522.2 867.6 1525.3 866.7 1528.5 865.7C1531.7 864.7 1534.9 863.7 1538.1 862.6C1541.2 861.6 1544.4 860.5 1547.6 859.4C1550.8 858.2 1553.9 857.1 1557.1 855.9C1560.3 854.7 1563.4 853.5 1566.6 852.3C1569.8 851.1 1572.9 849.9 1576.1 848.6C1579.2 847.4 1582.4 846.1 1585.6 844.9C1588.7 843.6 1591.9 842.3 1595.0 841.0C1598.2 839.8 1601.3 838.5 1604.5 837.2C1607.7 835.9 1610.8 834.6 1614.0 833.4C1617.1 832.1 1620.3 830.8 1623.4 829.5C1626.6 828.3 1629.7 827.0 1632.9 825.7C1636.0 824.5 1639.2 823.2 1642.3 821.9C1645.5 820.7 1648.6 819.4 1651.8 818.2C1655.0 817.0 1658.1 815.7 1661.3 814.5C1664.4 813.3 1667.6 812.1 1670.8 810.9C1673.9 809.7 1677.1 808.5 1680.2 807.3C1683.4 806.2 1686.6 805.0 1689.7 803.9C1692.9 802.7 1696.1 801.6 1699.2 800.5C1702.4 799.4 1705.6 798.3 1708.8 797.2C1711.9 796.1 1715.1 795.1 1718.3 794.1C1721.5 793.0 1724.7 792.0 1727.9 791.0C1731.0 790.0 1734.2 789.1 1737.4 788.1C1740.6 787.2 1743.8 786.2 1747.0 785.3C1750.2 784.4 1753.4 783.5 1756.6 782.7C1759.8 781.8 1763.1 781.0 1766.3 780.1C1769.5 779.3 1772.7 778.5 1775.9 777.7C1779.1 776.9 1782.4 776.2 1785.6 775.4C1788.8 774.6 1792.1 773.9 1795.3 773.2C1798.5 772.5 1801.8 771.8 1805.0 771.1C1808.2 770.4 1811.5 769.7 1814.7 769.0C1818.0 768.4 1821.2 767.7 1824.5 767.1C1827.8 766.5 1831.0 765.8 1834.3 765.2C1837.5 764.6 1840.8 764.0 1844.1 763.5C1847.3 762.9 1850.6 762.3 1853.9 761.7C1857.2 761.2 1860.5 760.6 1863.7 760.1C1867.0 759.6 1870.3 759.0 1873.6 758.5C1876.9 758.0 1880.2 757.5 1883.5 757.0C1886.8 756.5 1890.1 756.0 1893.4 755.5C1896.7 755.0 1900.0 754.5 1903.4 754.1C1906.7 753.6 1910.0 753.1 1913.3 752.7C1916.6 752.2 1920.0 751.8 1923.3 751.3C1926.6 750.9 1930.0 750.4 1933.3 750.0C1932.4 753.2 1932.0 756.6 1930.7 759.6C1929.5 762.6 1927.7 765.4 1925.8 767.9C1923.8 770.6 1921.4 772.9 1919.0 775.2C1916.4 777.5 1913.7 779.6 1910.9 781.7C1908.1 783.7 1905.2 785.7 1902.2 787.6C1899.3 789.5 1896.4 791.4 1893.5 793.3C1890.6 795.2 1887.7 797.0 1884.8 798.8C1881.9 800.6 1879.1 802.4 1876.2 804.2C1873.3 805.9 1870.4 807.7 1867.5 809.4C1864.7 811.1 1861.8 812.7 1858.9 814.4C1856.1 816.0 1853.2 817.6 1850.3 819.2C1847.4 820.7 1844.5 822.3 1841.6 823.8C1838.7 825.3 1835.7 826.8 1832.8 828.2C1829.9 829.7 1826.9 831.1 1823.9 832.5C1820.9 833.9 1817.9 835.2 1814.9 836.5C1811.9 837.9 1808.8 839.2 1805.8 840.4C1802.7 841.7 1799.6 842.9 1796.6 844.1C1793.5 845.4 1790.4 846.5 1787.2 847.7C1784.1 848.9 1781.0 850.0 1777.8 851.1C1774.7 852.2 1771.5 853.3 1768.3 854.4C1765.2 855.5 1762.0 856.5 1758.8 857.6C1755.6 858.6 1752.4 859.6 1749.2 860.6C1745.9 861.6 1742.7 862.6 1739.5 863.6C1736.3 864.5 1733.0 865.5 1729.8 866.4C1726.5 867.3 1723.3 868.3 1720.0 869.2C1716.8 870.1 1713.5 871.0 1710.3 871.9C1707.0 872.8 1703.8 873.6 1700.5 874.5C1697.3 875.4 1694.0 876.2 1690.8 877.1C1687.5 878.0 1684.2 878.8 1681.0 879.7C1677.7 880.5 1674.5 881.3 1671.2 882.2C1668.0 883.0 1664.8 883.8 1661.5 884.7C1658.3 885.5 1655.0 886.3 1651.8 887.2C1648.6 888.0 1645.3 888.8 1642.1 889.7C1638.9 890.5 1635.7 891.3 1632.4 892.2C1629.2 893.0 1626.0 893.8 1622.8 894.7C1619.6 895.5 1616.3 896.4 1613.1 897.2C1609.9 898.1 1606.7 898.9 1603.5 899.8C1600.3 900.6 1597.1 901.5 1593.9 902.4C1590.7 903.3 1587.4 904.1 1584.2 905.0C1581.0 905.9 1577.8 906.8 1574.6 907.7C1571.4 908.7 1568.2 909.6 1565.0 910.5C1561.8 911.4 1558.6 912.4 1555.4 913.4C1552.3 914.3 1549.1 915.3 1545.9 916.3C1542.7 917.3 1539.5 918.3 1536.3 919.3C1533.1 920.3 1529.9 921.4 1526.7 922.4C1523.5 923.5 1520.3 924.6 1517.1 925.6C1514.0 926.7 1510.8 927.9 1507.6 929.0C1504.4 930.1 1501.2 931.2 1498.0 932.4C1494.8 933.5 1491.6 934.7 1488.5 935.8C1485.3 937.0 1482.1 938.1 1478.9 939.3C1475.7 940.4 1472.5 941.6 1469.3 942.7C1466.1 943.9 1463.0 945.0 1459.8 946.1C1456.6 947.2 1453.4 948.3 1450.2 949.4C1447.0 950.5 1443.8 951.6 1440.6 952.6C1437.4 953.7 1434.3 954.7 1431.1 955.7C1427.9 956.7 1424.7 957.7 1421.5 958.6C1418.3 959.6 1415.1 960.5 1411.9 961.3C1408.7 962.2 1405.5 963.0 1402.3 963.8C1399.1 964.6 1395.9 965.4 1392.7 966.1C1389.5 966.8 1386.3 967.4 1383.1 968.1C1379.9 968.7 1376.7 969.3 1373.4 970.0C1370.2 970.6 1367.0 971.2 1363.8 971.8C1360.6 972.4 1357.4 972.9 1354.2 973.5C1350.9 974.1 1347.7 974.7 1344.5 975.4C1341.3 976.0 1338.1 976.6 1334.8 977.3C1331.6 978.0 1328.4 978.7 1325.1 979.5C1321.9 980.2 1318.7 981.0 1315.4 981.9C1312.2 982.7 1309.0 983.6 1305.7 984.4C1302.5 985.3 1299.2 986.3 1296.0 987.2C1292.7 988.2 1289.5 989.2 1286.2 990.2C1283.0 991.2 1279.7 992.2 1276.5 993.2C1273.2 994.3 1270.0 995.3 1266.7 996.4C1263.4 997.5 1260.2 998.5 1256.9 999.6C1253.7 1000.7 1250.4 1001.8 1247.1 1002.9C1243.9 1004.0 1240.6 1005.1 1237.3 1006.2C1234.1 1007.2 1230.8 1008.3 1227.5 1009.4C1224.3 1010.5 1221.0 1011.6 1217.7 1012.6C1214.5 1013.7 1211.2 1014.7 1207.9 1015.7C1204.6 1016.7 1201.4 1017.7 1198.1 1018.7C1194.8 1019.7 1191.5 1020.7 1188.3 1021.6C1185.0 1022.5 1181.7 1023.4 1178.4 1024.3C1175.2 1025.1 1171.9 1026.0 1168.6 1026.8C1165.3 1027.5 1162.1 1028.3 1158.8 1029.0C1155.5 1029.7 1152.2 1030.4 1149.0 1031.0C1145.7 1031.7 1142.4 1032.3 1139.1 1032.8C1135.9 1033.4 1132.6 1033.9 1129.3 1034.4C1126.0 1034.9 1122.8 1035.3 1119.5 1035.7C1116.2 1036.1 1112.9 1036.5 1109.7 1036.8C1106.4 1037.1 1103.1 1037.4 1099.8 1037.7C1096.6 1037.9 1093.3 1038.1 1090.0 1038.3C1086.8 1038.5 1083.5 1038.6 1080.2 1038.7C1077.0 1038.8 1073.7 1038.8 1070.4 1038.8C1067.2 1038.8 1063.9 1038.8 1060.7 1038.7C1057.4 1038.6 1054.1 1038.5 1050.9 1038.4C1047.6 1038.2 1044.4 1038.0 1041.1 1037.8C1037.9 1037.5 1034.6 1037.3 1031.4 1037.0C1028.1 1036.6 1024.9 1036.3 1021.6 1035.9C1018.4 1035.5 1015.1 1035.1 1011.9 1034.6C1008.7 1034.1 1005.4 1033.6 1002.2 1033.0C998.9 1032.5 995.7 1031.9 992.5 1031.2C989.2 1030.6 986.0 1029.9 982.8 1029.2C979.6 1028.5 976.3 1027.7 973.1 1026.9C969.9 1026.1 966.7 1025.3 963.5 1024.4C960.3 1023.6 957.0 1022.7 953.8 1021.7C950.6 1020.8 947.4 1019.9 944.2 1018.9C941.0 1017.9 937.8 1016.9 934.6 1015.9C931.4 1014.9 928.2 1013.8 925.0 1012.7C921.8 1011.7 918.6 1010.6 915.4 1009.5C912.2 1008.4 909.0 1007.2 905.8 1006.1C902.6 1005.0 899.4 1003.8 896.2 1002.7C893.0 1001.5 889.8 1000.3 886.6 999.2C883.4 998.0 880.2 996.8 877.0 995.6C873.8 994.4 870.6 993.3 867.4 992.1C864.2 990.9 861.0 989.7 857.8 988.5C854.6 987.3 851.4 986.1 848.1 984.9C844.9 983.8 841.7 982.6 838.5 981.4C835.3 980.2 832.1 979.1 828.9 977.9C825.7 976.8 822.5 975.6 819.3 974.5C816.1 973.4 812.8 972.3 809.6 971.2C806.4 970.1 803.2 969.1 800.0 968.0C796.8 967.0 793.5 965.9 790.3 964.9C787.1 963.9 783.8 962.9 780.6 962.0C777.4 961.0 774.2 960.1 770.9 959.2C767.7 958.3 764.4 957.5 761.2 956.6C757.9 955.8 754.7 955.0 751.4 954.3C748.2 953.5 744.9 952.8 741.7 952.1C738.4 951.4 735.2 950.8 731.9 950.1C728.6 949.5 725.4 948.9 722.1 948.4C718.8 947.8 715.5 947.3 712.3 946.8C709.0 946.3 705.7 945.9 702.4 945.4C699.1 945.0 695.8 944.6 692.5 944.2C689.3 943.8 686.0 943.4 682.7 943.1C679.4 942.7 676.1 942.4 672.8 942.1C669.5 941.7 666.2 941.5 662.9 941.2C659.6 940.9 656.2 940.6 652.9 940.4C649.6 940.1 646.3 939.9 643.0 939.6C639.7 939.4 636.4 939.2 633.0 939.0C629.7 938.8 626.4 938.6 623.1 938.3C619.7 938.1 616.4 937.9 613.1 937.7C609.8 937.5 606.4 937.4 603.1 937.2C599.8 937.0 596.4 936.8 593.1 936.6C589.8 936.4 586.4 936.2 583.1 935.9C579.8 935.7 576.4 935.5 573.1 935.3C569.8 935.1 566.4 934.8 563.1 934.6C559.7 934.3 556.4 934.1 553.1 933.8C549.7 933.5 546.4 933.3 543.0 933.0C539.7 932.7 536.3 932.3 533.0 932.0Z"/>
<path stroke="#ff00ff" d="M533.0 948.0C535.4 945.5 537.6 942.9 540.2 940.6C542.6 938.5 545.3 936.6 548.1 934.8C550.9 933.1 553.8 931.6 556.8 930.2C559.7 928.8 562.8 927.7 565.9 926.5C569.0 925.4 572.2 924.4 575.4 923.4C578.6 922.4 581.8 921.4 585.0 920.5C588.2 919.6 591.5 918.6 594.8 917.7C598.0 916.8 601.3 915.9 604.6 915.1C607.9 914.2 611.2 913.4 614.5 912.6C617.8 911.8 621.1 911.1 624.4 910.3C627.7 909.6 631.0 908.9 634.3 908.3C637.6 907.6 641.0 907.0 644.3 906.4C647.6 905.8 650.9 905.2 654.3 904.7C657.6 904.2 660.9 903.7 664.2 903.2C667.6 902.7 670.9 902.3 674.3 901.9C677.6 901.4 680.9 901.1 684.3 900.7C687.6 900.3 690.9 900.0 694.3 899.6C697.6 899.3 701.0 899.0 704.3 898.7C707.7 898.5 711.0 898.2 714.4 898.0C717.7 897.7 721.1 897.5 724.4 897.3C727.8 897.1 731.1 896.9 734.5 896.7C737.8 896.6 741.2 896.4 744.6 896.3C747.9 896.1 751.3 896.0 754.6 895.9C758.0 895.8 761.3 895.7 764.7 895.6C768.1 895.5 771.4 895.4 774.8 895.4C778.1 895.3 781.5 895.2 784.9 895.2C788.2 895.1 791.6 895.1 794.9 895.0C798.3 895.0 801.7 895.0 805.0 894.9C808.4 894.9 811.7 894.9 815.1 894.8C818.5 894.8 821.8 894.8 825.2 894.8C828.5 894.8 831.9 894.7 835.2 894.7C838.6 894.7 841.9 894.7 845.3 894.6C848.6 894.6 852.0 894.6 855.4 894.5C858.7 894.5 862.0 894.5 865.4 894.4C868.7 894.4 872.1 894.3 875.4 894.3C878.8 894.2 882.1 894.2 885.5 894.1C888.8 894.1 892.2 894.0 895.5 893.9C898.8 893.9 902.2 893.8 905.5 893.7C908.9 893.7 912.2 893.6 915.5 893.5C918.9 893.4 922.2 893.3 925.5 893.3C928.9 893.2 932.2 893.1 935.6 893.0C938.9 892.9 942.2 892.8 945.6 892.7C948.9 892.6 952.2 892.5 955.6 892.4C958.9 892.3 962.2 892.2 965.6 892.1C968.9 891.9 972.2 891.8 975.6 891.7C978.9 891.6 982.2 891.5 985.6 891.3C988.9 891.2 992.2 891.1 995.6 890.9C998.9 890.8 1002.2 890.7 1005.5 890.5C1008.9 890.4 1012.2 890.3 1015.5 890.1C1018.9 890.0 1022.2 889.8 1025.5 889.7C1028.9 889.5 1032.2 889.4 1035.5 889.2C1038.9 889.1 1042.2 888.9 1045.5 888.7C1048.9 888.6 1052.2 888.4 1055.5 888.2C1058.9 888.1 1062.2 887.9 1065.5 887.7C1068.9 887.5 1072.2 887.4 1075.5 887.2C1078.9 887.0 1082.2 886.8 1085.5 886.6C1088.9 886.4 1092.2 886.3 1095.6 886.1C1098.9 885.9 1102.2 885.7 1105.6 885.5C1108.9 885.3 1112.2 885.1 1115.6 884.9C1118.9 884.7 1122.3 884.5 1125.6 884.3C1129.0 884.1 1132.3 883.9 1135.6 883.6C1139.0 883.4 1142.3 883.2 1145.7 883.0C1149.0 882.8 1152.4 882.6 1155.7 882.3C1159.1 882.1 1162.4 881.9 1165.8 881.7C1169.1 881.4 1172.5 881.2 1175.8 881.0C1179.2 880.8 1182.6 880.5 1185.9 880.3C1189.3 880.1 1192.6 879.8 1196.0 879.6C1199.4 879.3 1202.7 879.1 1206.1 878.8C1209.4 878.6 1212.8 878.4 1216.2 878.1C1219.5 877.9 1222.9 877.6 1226.3 877.4C1229.7 877.1 1233.0 876.8 1236.4 876.6C1239.8 876.3 1243.2 876.1 1246.5 875.8C1249.9 875.5 1253.3 875.3 1256.7 875.0C1260.1 874.8 1263.4 874.5 1266.8 874.2C1270.2 874.0 1273.6 873.7 1277.0 873.4C1280.4 873.1 1283.8 872.9 1287.2 872.6C1290.6 872.3 1294.0 872.0 1297.4 871.7C1300.8 871.5 1304.2 871.2 1307.6 870.9C1311.0 870.6 1314.4 870.3 1317.8 870.0C1321.2 869.8 1324.6 869.5 1328.0 869.2C1331.4 868.9 1334.8 868.6 1338.2 868.3C1341.6 868.0 1345.0 867.7 1348.5 867.4C1351.9 867.1 1355.2 866.8 1358.6 866.5C1362.0 866.2 1365.4 865.9 1368.8 865.6C1372.2 865.3 1375.6 865.0 1379.0 864.7C1382.4 864.4 1385.7 864.0 1389.1 863.7C1392.5 863.4 1395.8 863.1 1399.2 862.8C1402.5 862.4 1405.9 862.1 1409.2 861.8C1412.5 861.5 1415.9 861.1 1419.2 860.8C1422.5 860.5 1425.8 860.1 1429.1 859.8C1432.4 859.5 1435.7 859.1 1439.0 858.8C1442.3 858.5 1445.5 858.1 1448.8 857.8C1452.0 857.4 1455.3 857.1 1458.5 856.7C1461.7 856.3 1464.9 856.0 1468.1 855.5C1471.3 855.0 1474.5 854.6 1477.7 854.0C1480.9 853.4 1484.0 852.7 1487.2 851.9C1490.3 851.2 1493.4 850.3 1496.5 849.2C1499.6 848.2 1502.7 847.0 1505.8 845.7C1508.9 844.4 1511.9 843.0 1514.9 841.5C1518.0 840.1 1521.0 838.5 1523.9 837.0C1526.9 835.4 1529.9 833.9 1532.9 832.2C1535.8 830.6 1538.7 829.0 1541.7 827.3C1544.6 825.6 1547.5 823.9 1550.4 822.2C1553.2 820.5 1556.1 818.7 1559.0 817.0C1561.8 815.2 1564.6 813.4 1567.5 811.6C1570.3 809.8 1573.1 807.9 1575.9 806.0C1578.7 804.2 1581.5 802.3 1584.3 800.4C1587.1 798.5 1589.8 796.6 1592.6 794.7C1595.3 792.7 1598.1 790.8 1600.8 788.8C1603.6 786.9 1606.3 784.9 1609.0 782.9C1611.8 780.9 1614.5 778.9 1617.2 776.9C1619.9 774.9 1622.6 772.9 1625.3 770.9C1628.0 768.9 1630.7 766.9 1633.4 764.8C1636.1 762.8 1638.8 760.8 1641.5 758.7C1644.2 756.7 1646.8 754.7 1649.5 752.6C1652.2 750.6 1654.9 748.5 1657.6 746.5C1660.3 744.5 1663.0 742.4 1665.7 740.4C1668.3 738.4 1671.0 736.4 1673.7 734.3C1676.4 732.3 1679.1 730.3 1681.8 728.3C1684.5 726.3 1687.2 724.3 1689.9 722.3C1692.6 720.3 1695.3 718.3 1698.1 716.4C1700.8 714.4 1703.5 712.5 1706.3 710.5C1709.0 708.6 1711.7 706.7 1714.5 704.7C1717.2 702.8 1720.0 701.0 1722.8 699.1C1725.6 697.2 1728.3 695.4 1731.1 693.5C1733.9 691.7 1736.7 689.9 1739.6 688.1C1742.4 686.3 1745.2 684.5 1748.0 682.8C1750.9 681.0 1753.7 679.3 1756.6 677.6C1759.5 675.9 1762.3 674.2 1765.2 672.5C1768.1 670.9 1771.0 669.2 1773.9 667.6C1776.8 666.0 1779.7 664.3 1782.7 662.8C1785.6 661.2 1788.5 659.6 1791.5 658.1C1794.5 656.5 1797.4 655.0 1800.4 653.5C1803.4 652.0 1806.4 650.5 1809.4 649.1C1812.4 647.6 1815.4 646.2 1818.4 644.7C1821.5 643.3 1824.5 641.9 1827.6 640.6C1830.6 639.2 1833.7 637.8 1836.8 636.5C1839.9 635.2 1843.0 633.9 1846.1 632.6C1849.2 631.3 1852.3 630.0 1855.4 628.8C1858.6 627.6 1861.7 626.3 1864.9 625.2C1868.0 624.0 1871.2 622.9 1874.4 621.8C1877.6 620.7 1880.8 619.6 1884.0 618.6C1887.2 617.6 1890.5 616.7 1893.7 615.8C1896.9 615.0 1900.2 614.1 1903.5 613.4C1906.7 612.7 1910.0 612.0 1913.3 611.4C1916.6 610.9 1919.9 610.3 1923.3 609.9C1926.6 609.5 1930.0 609.3 1933.3 609.0C1932.3 612.2 1931.4 615.4 1930.3 618.6C1929.1 621.7 1927.8 624.7 1926.4 627.7C1925.0 630.7 1923.5 633.6 1921.8 636.5C1920.2 639.4 1918.4 642.2 1916.6 644.9C1914.8 647.6 1912.9 650.3 1910.9 653.0C1908.9 655.6 1906.8 658.2 1904.7 660.8C1902.5 663.3 1900.3 665.8 1898.1 668.3C1895.9 670.8 1893.5 673.2 1891.2 675.6C1888.9 678.0 1886.5 680.4 1884.1 682.8C1881.7 685.1 1879.2 687.4 1876.8 689.7C1874.3 692.1 1871.8 694.3 1869.4 696.6C1866.9 698.9 1864.4 701.2 1861.9 703.4C1859.4 705.7 1856.9 707.9 1854.4 710.2C1851.9 712.4 1849.4 714.6 1846.9 716.8C1844.4 719.0 1841.9 721.2 1839.3 723.4C1836.8 725.6 1834.3 727.8 1831.7 730.0C1829.2 732.1 1826.7 734.3 1824.1 736.5C1821.6 738.6 1819.0 740.8 1816.4 742.9C1813.9 745.0 1811.3 747.2 1808.7 749.3C1806.2 751.4 1803.6 753.5 1801.0 755.6C1798.4 757.7 1795.8 759.8 1793.2 761.9C1790.6 764.0 1788.0 766.1 1785.3 768.2C1782.7 770.3 1780.1 772.3 1777.4 774.4C1774.8 776.4 1772.2 778.5 1769.5 780.5C1766.8 782.5 1764.2 784.5 1761.5 786.5C1758.8 788.5 1756.1 790.5 1753.4 792.4C1750.8 794.4 1748.1 796.3 1745.3 798.2C1742.6 800.2 1739.9 802.0 1737.2 803.9C1734.5 805.8 1731.7 807.6 1729.0 809.5C1726.2 811.3 1723.5 813.1 1720.7 814.9C1718.0 816.7 1715.2 818.5 1712.4 820.3C1709.6 822.1 1706.8 823.8 1704.0 825.6C1701.2 827.3 1698.4 829.1 1695.6 830.8C1692.8 832.5 1690.0 834.2 1687.1 835.9C1684.3 837.6 1681.4 839.3 1678.6 841.0C1675.7 842.7 1672.9 844.4 1670.0 846.1C1667.1 847.8 1664.2 849.5 1661.3 851.1C1658.4 852.8 1655.6 854.5 1652.7 856.1C1649.7 857.8 1646.8 859.5 1643.9 861.1C1641.0 862.8 1638.1 864.4 1635.2 866.1C1632.3 867.7 1629.3 869.4 1626.4 871.0C1623.5 872.7 1620.6 874.3 1617.6 876.0C1614.7 877.6 1611.8 879.3 1608.9 880.9C1605.9 882.6 1603.0 884.2 1600.1 885.9C1597.2 887.5 1594.3 889.2 1591.3 890.8C1588.4 892.5 1585.5 894.2 1582.6 895.8C1579.7 897.5 1576.8 899.2 1573.9 900.8C1571.0 902.5 1568.1 904.2 1565.3 905.9C1562.4 907.5 1559.5 909.2 1556.6 910.9C1553.8 912.6 1550.9 914.3 1548.1 916.0C1545.3 917.8 1542.4 919.5 1539.6 921.2C1536.8 922.9 1534.0 924.7 1531.2 926.4C1528.4 928.1 1525.6 929.9 1522.8 931.7C1520.0 933.4 1517.3 935.2 1514.5 936.9C1511.7 938.7 1508.9 940.5 1506.2 942.3C1503.4 944.0 1500.6 945.8 1497.9 947.6C1495.1 949.4 1492.3 951.2 1489.6 952.9C1486.8 954.7 1484.0 956.5 1481.2 958.3C1478.4 960.1 1475.6 961.9 1472.8 963.7C1470.0 965.4 1467.2 967.2 1464.3 969.0C1461.5 970.8 1458.7 972.6 1455.8 974.3C1453.0 976.1 1450.1 977.9 1447.3 979.6C1444.4 981.4 1441.6 983.2 1438.7 984.9C1435.8 986.7 1432.9 988.4 1430.1 990.2C1427.2 991.9 1424.3 993.6 1421.4 995.4C1418.5 997.1 1415.6 998.8 1412.7 1000.5C1409.7 1002.2 1406.8 1003.9 1403.9 1005.6C1401.0 1007.3 1398.1 1008.9 1395.1 1010.6C1392.2 1012.3 1389.2 1013.9 1386.3 1015.5C1383.4 1017.2 1380.4 1018.8 1377.5 1020.4C1374.5 1022.0 1371.5 1023.6 1368.6 1025.2C1365.6 1026.7 1362.7 1028.3 1359.7 1029.8C1356.7 1031.4 1353.7 1032.9 1350.8 1034.4C1347.8 1035.9 1344.8 1037.4 1341.8 1038.9C1338.8 1040.3 1335.9 1041.8 1332.9 1043.2C1329.9 1044.7 1326.9 1046.1 1323.9 1047.5C1320.9 1048.9 1317.9 1050.3 1314.9 1051.7C1311.9 1053.1 1308.9 1054.5 1305.9 1055.9C1302.9 1057.3 1299.9 1058.7 1296.9 1060.0C1293.9 1061.4 1290.9 1062.8 1288.0 1064.1C1285.0 1065.5 1282.0 1066.9 1279.0 1068.3C1276.0 1069.6 1273.0 1071.0 1270.0 1072.4C1267.0 1073.8 1264.0 1075.2 1261.0 1076.6C1258.0 1078.0 1255.1 1079.4 1252.1 1080.8C1249.1 1082.2 1246.1 1083.6 1243.1 1085.0C1240.2 1086.5 1237.2 1087.9 1234.2 1089.4C1231.3 1090.9 1228.3 1092.3 1225.3 1093.8C1222.4 1095.3 1219.4 1096.9 1216.5 1098.4C1213.5 1099.9 1210.6 1101.5 1207.6 1103.1C1204.7 1104.7 1201.8 1106.3 1198.9 1107.9C1195.9 1109.6 1193.0 1111.2 1190.1 1112.9C1187.2 1114.6 1184.3 1116.3 1181.3 1118.0C1178.4 1119.7 1175.5 1121.4 1172.6 1123.1C1169.7 1124.8 1166.7 1126.5 1163.8 1128.2C1160.9 1129.9 1157.9 1131.6 1155.0 1133.2C1152.0 1134.9 1149.1 1136.5 1146.1 1138.1C1143.1 1139.7 1140.2 1141.3 1137.2 1142.8C1134.2 1144.4 1131.1 1145.9 1128.1 1147.4C1125.1 1148.8 1122.0 1150.2 1118.9 1151.6C1115.8 1152.9 1112.7 1154.2 1109.6 1155.5C1106.5 1156.7 1103.3 1157.9 1100.2 1159.0C1097.0 1160.1 1093.8 1161.1 1090.6 1162.1C1087.4 1163.0 1084.1 1163.9 1080.9 1164.7C1077.7 1165.5 1074.4 1166.2 1071.1 1166.8C1067.9 1167.4 1064.6 1167.9 1061.3 1168.3C1058.0 1168.7 1054.7 1169.1 1051.5 1169.3C1048.2 1169.5 1044.9 1169.6 1041.6 1169.6C1038.3 1169.6 1035.0 1169.4 1031.8 1169.2C1028.5 1169.0 1025.2 1168.6 1022.0 1168.2C1018.7 1167.7 1015.5 1167.1 1012.3 1166.5C1009.1 1165.8 1005.9 1165.1 1002.7 1164.2C999.5 1163.4 996.3 1162.4 993.2 1161.4C990.0 1160.4 986.9 1159.3 983.8 1158.1C980.8 1156.9 977.7 1155.6 974.7 1154.2C971.6 1152.9 968.7 1151.4 965.7 1149.9C962.7 1148.4 959.8 1146.9 956.9 1145.2C954.1 1143.6 951.2 1141.9 948.4 1140.1C945.6 1138.4 942.8 1136.6 940.1 1134.7C937.3 1132.9 934.6 1130.9 931.9 1129.0C929.2 1127.0 926.6 1125.0 924.0 1123.0C921.3 1120.9 918.7 1118.8 916.1 1116.7C913.5 1114.6 910.9 1112.5 908.4 1110.3C905.8 1108.1 903.2 1105.9 900.7 1103.7C898.1 1101.5 895.6 1099.3 893.1 1097.0C890.6 1094.8 888.1 1092.5 885.5 1090.3C883.0 1088.0 880.5 1085.7 878.0 1083.4C875.5 1081.2 873.0 1078.9 870.5 1076.6C867.9 1074.4 865.4 1072.1 862.9 1069.8C860.4 1067.6 857.8 1065.4 855.3 1063.1C852.7 1060.9 850.2 1058.7 847.6 1056.5C845.0 1054.4 842.4 1052.2 839.8 1050.1C837.2 1048.0 834.5 1045.9 831.9 1043.8C829.3 1041.7 826.6 1039.7 823.9 1037.7C821.2 1035.7 818.5 1033.7 815.8 1031.7C813.1 1029.8 810.4 1027.9 807.6 1026.0C804.9 1024.1 802.1 1022.2 799.3 1020.4C796.6 1018.6 793.8 1016.8 790.9 1015.1C788.1 1013.3 785.3 1011.6 782.4 1009.9C779.6 1008.3 776.7 1006.7 773.8 1005.1C770.9 1003.5 768.0 1001.9 765.1 1000.4C762.1 998.9 759.2 997.5 756.2 996.1C753.3 994.6 750.3 993.3 747.3 991.9C744.2 990.6 741.2 989.3 738.2 988.1C735.1 986.9 732.0 985.7 729.0 984.5C725.9 983.4 722.8 982.3 719.7 981.2C716.5 980.1 713.4 979.1 710.3 978.1C707.1 977.1 704.0 976.2 700.8 975.3C697.6 974.3 694.4 973.5 691.2 972.6C688.0 971.8 684.8 970.9 681.6 970.1C678.4 969.4 675.1 968.6 671.9 967.9C668.6 967.1 665.4 966.4 662.1 965.8C658.8 965.1 655.6 964.4 652.3 963.8C649.0 963.2 645.7 962.6 642.4 962.0C639.1 961.4 635.8 960.9 632.5 960.3C629.2 959.8 625.9 959.3 622.6 958.8C619.3 958.3 616.0 957.8 612.6 957.3C609.3 956.9 606.0 956.4 602.7 956.0C599.3 955.6 596.0 955.1 592.7 954.7C589.3 954.3 586.0 953.9 582.7 953.5C579.4 953.1 576.0 952.7 572.7 952.3C569.4 952.0 566.1 951.6 562.7 951.2C559.4 950.9 556.1 950.5 552.8 950.1C549.5 949.8 546.2 949.4 542.9 949.1C539.6 948.7 536.3 948.4 533.0 948.0Z"/>
<path stroke="#008000" d="M533.0 1019.0C534.0 1015.7 534.7 1012.4 535.9 1009.2C537.1 1006.1 538.5 1003.1 540.1 1000.3C541.7 997.4 543.5 994.7 545.4 992.0C547.3 989.4 549.3 986.9 551.5 984.5C553.7 982.0 556.0 979.7 558.3 977.4C560.7 975.1 563.2 972.9 565.7 970.8C568.3 968.6 570.9 966.5 573.6 964.5C576.3 962.5 579.1 960.5 581.9 958.6C584.7 956.7 587.5 954.9 590.4 953.1C593.4 951.3 596.3 949.6 599.3 947.9C602.3 946.2 605.3 944.6 608.4 943.0C611.4 941.4 614.5 939.9 617.6 938.4C620.6 936.9 623.7 935.5 626.8 934.1C629.9 932.7 633.1 931.4 636.2 930.1C639.3 928.8 642.4 927.5 645.6 926.3C648.7 925.0 651.9 923.9 655.0 922.7C658.2 921.6 661.4 920.5 664.5 919.4C667.7 918.3 670.9 917.3 674.1 916.3C677.3 915.3 680.5 914.3 683.7 913.3C686.9 912.4 690.1 911.5 693.3 910.6C696.5 909.7 699.8 908.9 703.0 908.0C706.2 907.2 709.4 906.4 712.7 905.6C715.9 904.9 719.2 904.1 722.4 903.4C725.6 902.6 728.9 901.9 732.2 901.2C735.4 900.5 738.7 899.9 741.9 899.2C745.2 898.6 748.4 897.9 751.7 897.3C755.0 896.7 758.2 896.1 761.5 895.5C764.8 894.9 768.1 894.3 771.3 893.8C774.6 893.2 777.9 892.6 781.2 892.1C784.4 891.6 787.7 891.1 791.0 890.5C794.3 890.0 797.6 889.5 800.9 889.1C804.1 888.6 807.4 888.1 810.7 887.6C814.0 887.2 817.3 886.7 820.6 886.3C823.9 885.8 827.2 885.4 830.5 885.0C833.8 884.6 837.1 884.2 840.4 883.8C843.7 883.4 847.0 883.0 850.3 882.6C853.6 882.2 856.9 881.8 860.2 881.5C863.5 881.1 866.9 880.8 870.2 880.4C873.5 880.1 876.8 879.7 880.1 879.4C883.4 879.1 886.7 878.7 890.1 878.4C893.4 878.1 896.7 877.8 900.0 877.5C903.3 877.2 906.7 876.9 910.0 876.6C913.3 876.3 916.6 876.0 920.0 875.7C923.3 875.4 926.6 875.1 929.9 874.8C933.3 874.6 936.6 874.3 939.9 874.0C943.3 873.7 946.6 873.5 949.9 873.2C953.3 872.9 956.6 872.7 959.9 872.4C963.3 872.1 966.6 871.9 969.9 871.6C973.3 871.4 976.6 871.1 979.9 870.8C983.3 870.6 986.6 870.3 989.9 870.1C993.3 869.8 996.6 869.5 1000.0 869.3C1003.3 869.0 1006.6 868.8 1010.0 868.5C1013.3 868.2 1016.7 868.0 1020.0 867.7C1023.4 867.5 1026.7 867.2 1030.0 866.9C1033.4 866.6 1036.7 866.4 1040.1 866.1C1043.4 865.8 1046.8 865.5 1050.1 865.3C1053.5 865.0 1056.8 864.7 1060.1 864.4C1063.5 864.1 1066.8 863.8 1070.2 863.5C1073.5 863.2 1076.9 862.9 1080.2 862.6C1083.6 862.3 1086.9 861.9 1090.3 861.6C1093.6 861.3 1096.9 861.0 1100.3 860.6C1103.6 860.3 1107.0 859.9 1110.3 859.6C1113.7 859.2 1117.0 858.9 1120.4 858.5C1123.7 858.1 1127.1 857.8 1130.4 857.4C1133.7 857.0 1137.1 856.6 1140.4 856.2C1143.8 855.8 1147.1 855.4 1150.5 855.0C1153.8 854.6 1157.1 854.2 1160.5 853.8C1163.8 853.4 1167.2 853.0 1170.5 852.5C1173.9 852.1 1177.2 851.7 1180.5 851.3C1183.9 850.8 1187.2 850.4 1190.6 849.9C1193.9 849.5 1197.2 849.0 1200.6 848.6C1203.9 848.1 1207.2 847.7 1210.6 847.2C1213.9 846.8 1217.2 846.3 1220.6 845.8C1223.9 845.4 1227.2 844.9 1230.6 844.4C1233.9 844.0 1237.2 843.5 1240.6 843.0C1243.9 842.5 1247.2 842.0 1250.6 841.6C1253.9 841.1 1257.2 840.6 1260.5 840.1C1263.9 839.6 1267.2 839.1 1270.5 838.6C1273.8 838.1 1277.2 837.6 1280.5 837.1C1283.8 836.7 1287.1 836.2 1290.4 835.7C1293.7 835.2 1297.1 834.7 1300.4 834.2C1303.7 833.7 1307.0 833.2 1310.3 832.7C1313.6 832.2 1316.9 831.7 1320.3 831.1C1323.6 830.6 1326.9 830.1 1330.2 829.6C1333.5 829.1 1336.8 828.6 1340.1 828.1C1343.4 827.6 1346.7 827.1 1350.0 826.6C1353.3 826.0 1356.6 825.5 1359.9 825.0C1363.2 824.5 1366.5 824.0 1369.7 823.4C1373.0 822.9 1376.3 822.4 1379.6 821.9C1382.9 821.3 1386.2 820.8 1389.5 820.3C1392.7 819.7 1396.0 819.2 1399.3 818.6C1402.6 818.1 1405.9 817.5 1409.1 817.0C1412.4 816.4 1415.7 815.9 1418.9 815.3C1422.2 814.8 1425.5 814.2 1428.7 813.6C1432.0 813.1 1435.3 812.5 1438.5 811.9C1441.8 811.4 1445.0 810.8 1448.3 810.2C1451.6 809.6 1454.8 809.0 1458.1 808.4C1461.3 807.8 1464.5 807.2 1467.8 806.6C1471.0 805.9 1474.3 805.3 1477.5 804.6C1480.7 803.9 1484.0 803.2 1487.2 802.5C1490.4 801.8 1493.6 801.0 1496.8 800.2C1500.0 799.4 1503.2 798.5 1506.4 797.6C1509.6 796.7 1512.7 795.8 1515.9 794.8C1519.1 793.7 1522.2 792.7 1525.4 791.5C1528.5 790.4 1531.6 789.2 1534.7 788.0C1537.9 786.7 1541.0 785.4 1544.1 784.0C1547.2 782.7 1550.2 781.2 1553.3 779.8C1556.3 778.3 1559.4 776.8 1562.4 775.2C1565.4 773.6 1568.5 772.0 1571.4 770.3C1574.4 768.7 1577.4 767.0 1580.4 765.2C1583.3 763.5 1586.3 761.7 1589.2 759.9C1592.1 758.2 1595.0 756.3 1597.9 754.5C1600.8 752.7 1603.6 750.8 1606.5 749.0C1609.3 747.1 1612.1 745.2 1614.9 743.3C1617.7 741.4 1620.5 739.5 1623.3 737.6C1626.0 735.7 1628.8 733.8 1631.5 731.9C1634.3 730.0 1637.0 728.1 1639.7 726.2C1642.5 724.2 1645.2 722.3 1647.9 720.4C1650.6 718.5 1653.3 716.6 1656.0 714.7C1658.7 712.8 1661.4 711.0 1664.2 709.1C1666.9 707.2 1669.6 705.4 1672.3 703.5C1675.0 701.7 1677.7 699.8 1680.5 698.0C1683.2 696.2 1685.9 694.4 1688.7 692.6C1691.4 690.8 1694.2 689.0 1697.0 687.2C1699.7 685.4 1702.5 683.6 1705.3 681.9C1708.1 680.1 1710.9 678.4 1713.7 676.6C1716.6 674.9 1719.4 673.1 1722.3 671.4C1725.1 669.7 1728.0 668.0 1730.8 666.2C1733.7 664.5 1736.5 662.8 1739.4 661.1C1742.3 659.3 1745.2 657.6 1748.0 655.9C1750.9 654.1 1753.8 652.4 1756.7 650.7C1759.5 648.9 1762.4 647.2 1765.3 645.5C1768.2 643.7 1771.0 641.9 1773.9 640.2C1776.8 638.4 1779.6 636.6 1782.5 634.8C1785.4 633.1 1788.2 631.3 1791.0 629.4C1793.9 627.6 1796.7 625.8 1799.5 623.9C1802.3 622.1 1805.1 620.2 1807.9 618.3C1810.7 616.5 1813.5 614.6 1816.3 612.6C1819.0 610.7 1821.8 608.8 1824.5 606.8C1827.2 604.8 1829.9 602.8 1832.6 600.8C1835.3 598.8 1838.0 596.8 1840.7 594.7C1843.3 592.7 1846.0 590.6 1848.6 588.6C1851.3 586.5 1854.0 584.5 1856.6 582.4C1859.3 580.4 1861.9 578.4 1864.6 576.4C1867.3 574.4 1870.0 572.4 1872.7 570.4C1875.3 568.4 1878.1 566.5 1880.8 564.5C1883.5 562.6 1886.3 560.8 1889.0 558.9C1891.8 557.1 1894.6 555.3 1897.4 553.5C1900.3 551.8 1903.1 550.1 1906.0 548.5C1908.9 546.8 1911.9 545.3 1914.9 543.8C1917.8 542.3 1920.9 540.8 1923.9 539.5C1927.0 538.1 1930.2 536.9 1933.3 535.6C1931.6 538.5 1929.9 541.4 1928.1 544.2C1926.4 547.1 1924.5 549.8 1922.7 552.6C1920.8 555.4 1918.9 558.1 1916.9 560.8C1915.0 563.5 1912.9 566.1 1910.9 568.8C1908.9 571.4 1906.8 574.0 1904.7 576.6C1902.6 579.1 1900.4 581.7 1898.3 584.2C1896.1 586.7 1893.9 589.2 1891.7 591.7C1889.4 594.2 1887.2 596.7 1884.9 599.1C1882.6 601.6 1880.3 604.0 1878.0 606.4C1875.7 608.8 1873.4 611.2 1871.0 613.6C1868.7 616.0 1866.4 618.4 1864.0 620.8C1861.6 623.2 1859.3 625.5 1856.9 627.9C1854.5 630.3 1852.1 632.6 1849.7 635.0C1847.3 637.3 1845.0 639.7 1842.6 642.1C1840.2 644.4 1837.8 646.8 1835.4 649.1C1833.0 651.5 1830.6 653.8 1828.2 656.1C1825.8 658.5 1823.4 660.8 1821.0 663.2C1818.6 665.5 1816.2 667.8 1813.8 670.1C1811.3 672.4 1808.9 674.8 1806.5 677.1C1804.1 679.4 1801.6 681.7 1799.2 683.9C1796.7 686.2 1794.3 688.5 1791.8 690.8C1789.4 693.0 1786.9 695.3 1784.4 697.5C1782.0 699.8 1779.5 702.0 1777.0 704.2C1774.5 706.5 1772.0 708.7 1769.5 710.9C1767.0 713.0 1764.5 715.2 1761.9 717.4C1759.4 719.6 1756.9 721.7 1754.3 723.8C1751.8 726.0 1749.2 728.1 1746.7 730.2C1744.1 732.3 1741.5 734.4 1738.9 736.5C1736.3 738.5 1733.7 740.6 1731.1 742.7C1728.5 744.7 1725.9 746.8 1723.3 748.8C1720.7 750.9 1718.1 752.9 1715.5 755.0C1712.9 757.0 1710.3 759.0 1707.6 761.1C1705.0 763.1 1702.4 765.2 1699.8 767.3C1697.2 769.3 1694.6 771.4 1692.0 773.5C1689.4 775.6 1686.9 777.7 1684.3 779.8C1681.7 781.9 1679.2 784.1 1676.6 786.2C1674.1 788.4 1671.5 790.5 1669.0 792.7C1666.4 794.9 1663.9 797.1 1661.4 799.3C1658.9 801.5 1656.4 803.7 1653.8 805.9C1651.3 808.1 1648.8 810.3 1646.3 812.6C1643.8 814.8 1641.3 817.0 1638.8 819.2C1636.3 821.5 1633.7 823.7 1631.2 825.9C1628.7 828.2 1626.2 830.4 1623.7 832.6C1621.2 834.8 1618.7 837.1 1616.1 839.3C1613.6 841.5 1611.1 843.7 1608.6 845.9C1606.0 848.1 1603.5 850.3 1600.9 852.5C1598.4 854.6 1595.9 856.8 1593.3 859.0C1590.7 861.1 1588.2 863.3 1585.6 865.4C1583.0 867.5 1580.4 869.6 1577.8 871.7C1575.2 873.8 1572.6 875.9 1569.9 877.9C1567.3 880.0 1564.6 882.0 1562.0 884.0C1559.3 886.0 1556.6 888.0 1553.9 889.9C1551.3 891.9 1548.6 893.8 1545.8 895.8C1543.1 897.7 1540.4 899.6 1537.7 901.5C1534.9 903.4 1532.2 905.2 1529.4 907.1C1526.6 908.9 1523.9 910.8 1521.1 912.6C1518.3 914.5 1515.5 916.3 1512.7 918.1C1509.9 919.9 1507.1 921.7 1504.3 923.5C1501.5 925.3 1498.7 927.1 1495.9 928.9C1493.1 930.6 1490.3 932.4 1487.5 934.2C1484.6 936.0 1481.8 937.7 1479.0 939.5C1476.2 941.3 1473.3 943.0 1470.5 944.8C1467.7 946.6 1464.9 948.3 1462.0 950.1C1459.2 951.9 1456.4 953.7 1453.6 955.4C1450.7 957.2 1447.9 959.0 1445.1 960.8C1442.3 962.6 1439.5 964.4 1436.7 966.2C1433.9 968.0 1431.0 969.9 1428.2 971.7C1425.4 973.5 1422.7 975.3 1419.9 977.2C1417.1 979.0 1414.3 980.9 1411.5 982.7C1408.7 984.6 1405.9 986.4 1403.1 988.3C1400.3 990.1 1397.6 992.0 1394.8 993.9C1392.0 995.7 1389.2 997.6 1386.4 999.5C1383.6 1001.3 1380.9 1003.2 1378.1 1005.1C1375.3 1006.9 1372.5 1008.8 1369.7 1010.7C1366.9 1012.5 1364.1 1014.4 1361.4 1016.2C1358.6 1018.1 1355.8 1019.9 1353.0 1021.8C1350.2 1023.6 1347.4 1025.5 1344.6 1027.3C1341.8 1029.2 1339.0 1031.0 1336.2 1032.8C1333.4 1034.6 1330.6 1036.5 1327.7 1038.3C1324.9 1040.1 1322.1 1041.9 1319.3 1043.7C1316.5 1045.5 1313.6 1047.2 1310.8 1049.0C1308.0 1050.8 1305.1 1052.5 1302.3 1054.3C1299.4 1056.0 1296.6 1057.8 1293.7 1059.5C1290.9 1061.2 1288.0 1062.9 1285.1 1064.6C1282.3 1066.3 1279.4 1068.0 1276.5 1069.7C1273.6 1071.3 1270.8 1073.0 1267.9 1074.7C1265.0 1076.4 1262.1 1078.0 1259.2 1079.7C1256.4 1081.3 1253.5 1083.0 1250.6 1084.7C1247.7 1086.3 1244.8 1088.0 1242.0 1089.6C1239.1 1091.3 1236.2 1093.0 1233.3 1094.6C1230.5 1096.3 1227.6 1098.0 1224.7 1099.7C1221.9 1101.4 1219.0 1103.0 1216.2 1104.7C1213.3 1106.4 1210.5 1108.2 1207.6 1109.9C1204.8 1111.6 1202.0 1113.3 1199.2 1115.1C1196.3 1116.8 1193.5 1118.6 1190.7 1120.4C1187.9 1122.1 1185.1 1123.9 1182.3 1125.7C1179.5 1127.5 1176.7 1129.3 1174.0 1131.1C1171.2 1132.9 1168.4 1134.7 1165.6 1136.6C1162.8 1138.4 1160.0 1140.2 1157.2 1142.0C1154.4 1143.9 1151.7 1145.7 1148.9 1147.5C1146.1 1149.4 1143.3 1151.2 1140.5 1153.1C1137.7 1154.9 1134.8 1156.7 1132.0 1158.6C1129.2 1160.4 1126.4 1162.2 1123.6 1164.0C1120.7 1165.9 1117.9 1167.7 1115.0 1169.5C1112.2 1171.3 1109.3 1173.1 1106.4 1174.9C1103.5 1176.7 1100.6 1178.5 1097.7 1180.2C1094.8 1182.0 1091.9 1183.8 1089.0 1185.5C1086.1 1187.2 1083.1 1188.9 1080.2 1190.6C1077.2 1192.3 1074.3 1194.0 1071.3 1195.6C1068.3 1197.2 1065.4 1198.8 1062.4 1200.4C1059.4 1202.0 1056.4 1203.5 1053.3 1205.1C1050.3 1206.6 1047.3 1208.0 1044.2 1209.5C1041.2 1210.9 1038.1 1212.3 1035.0 1213.7C1032.0 1215.0 1028.9 1216.3 1025.8 1217.6C1022.7 1218.9 1019.6 1220.1 1016.4 1221.3C1013.3 1222.4 1010.2 1223.6 1007.0 1224.6C1003.8 1225.7 1000.7 1226.7 997.5 1227.7C994.3 1228.6 991.1 1229.5 987.9 1230.3C984.7 1231.2 981.5 1231.9 978.2 1232.6C975.0 1233.3 971.7 1234.0 968.5 1234.6C965.2 1235.1 961.9 1235.6 958.6 1236.1C955.3 1236.5 952.0 1236.8 948.7 1237.1C945.4 1237.4 942.1 1237.6 938.8 1237.7C935.5 1237.8 932.2 1237.8 928.9 1237.8C925.6 1237.7 922.3 1237.6 919.1 1237.4C915.8 1237.1 912.5 1236.8 909.3 1236.4C906.0 1236.0 902.8 1235.5 899.6 1234.9C896.4 1234.3 893.3 1233.6 890.1 1232.8C887.0 1232.0 883.8 1231.1 880.8 1230.1C877.7 1229.1 874.6 1228.0 871.6 1226.8C868.6 1225.6 865.6 1224.3 862.7 1222.9C859.7 1221.5 856.8 1220.0 853.9 1218.5C851.0 1216.9 848.2 1215.3 845.4 1213.6C842.5 1211.9 839.7 1210.1 836.9 1208.3C834.1 1206.4 831.4 1204.5 828.6 1202.6C825.9 1200.6 823.2 1198.6 820.5 1196.6C817.8 1194.5 815.1 1192.4 812.4 1190.2C809.8 1188.1 807.1 1185.9 804.5 1183.7C801.8 1181.5 799.2 1179.3 796.6 1177.0C794.0 1174.7 791.4 1172.5 788.8 1170.2C786.3 1167.9 783.7 1165.6 781.1 1163.2C778.6 1160.9 776.0 1158.6 773.4 1156.3C770.9 1154.0 768.3 1151.7 765.8 1149.4C763.3 1147.1 760.7 1144.8 758.2 1142.5C755.6 1140.3 753.1 1138.0 750.5 1135.8C748.0 1133.6 745.5 1131.3 742.9 1129.2C740.4 1127.0 737.8 1124.8 735.3 1122.7C732.7 1120.5 730.1 1118.4 727.6 1116.3C725.0 1114.2 722.4 1112.1 719.8 1110.0C717.2 1108.0 714.6 1106.0 712.0 1103.9C709.4 1101.9 706.8 1099.9 704.1 1098.0C701.5 1096.0 698.8 1094.1 696.2 1092.2C693.5 1090.3 690.8 1088.4 688.1 1086.5C685.4 1084.6 682.6 1082.8 679.9 1081.0C677.1 1079.2 674.4 1077.4 671.6 1075.6C668.8 1073.9 665.9 1072.2 663.1 1070.5C660.2 1068.7 657.4 1067.1 654.5 1065.4C651.6 1063.8 648.7 1062.2 645.7 1060.6C642.8 1059.0 639.8 1057.5 636.9 1055.9C633.9 1054.4 630.9 1052.9 627.9 1051.5C624.8 1050.0 621.8 1048.6 618.8 1047.2C615.7 1045.8 612.6 1044.5 609.6 1043.1C606.5 1041.8 603.4 1040.5 600.2 1039.3C597.1 1038.1 594.0 1036.8 590.8 1035.7C587.7 1034.5 584.5 1033.4 581.4 1032.3C578.2 1031.2 575.0 1030.1 571.8 1029.1C568.6 1028.1 565.4 1027.1 562.2 1026.2C559.0 1025.3 555.7 1024.4 552.5 1023.5C549.3 1022.7 546.0 1021.9 542.8 1021.1C539.5 1020.4 536.3 1019.7 533.0 1019.0Z"/>
<path stroke="#000080" d="M533.0 1072.0C534.5 1069.0 535.9 1066.1 537.5 1063.1C539.0 1060.1 540.6 1057.2 542.2 1054.3C543.8 1051.3 545.4 1048.4 547.1 1045.5C548.8 1042.6 550.5 1039.7 552.3 1036.8C554.0 1033.9 555.8 1031.0 557.7 1028.2C559.5 1025.4 561.4 1022.5 563.3 1019.8C565.3 1017.0 567.2 1014.2 569.2 1011.5C571.2 1008.7 573.3 1006.0 575.4 1003.3C577.5 1000.7 579.6 998.0 581.7 995.4C583.9 992.8 586.1 990.3 588.4 987.7C590.6 985.2 592.9 982.7 595.2 980.3C597.5 977.8 599.9 975.4 602.3 973.1C604.7 970.7 607.1 968.4 609.6 966.2C612.1 963.9 614.6 961.7 617.1 959.6C619.7 957.4 622.3 955.3 624.9 953.2C627.6 951.2 630.2 949.2 632.9 947.2C635.6 945.3 638.3 943.4 641.1 941.5C643.9 939.6 646.7 937.8 649.5 936.1C652.3 934.3 655.2 932.6 658.0 930.9C660.9 929.2 663.8 927.5 666.7 925.9C669.7 924.3 672.6 922.8 675.6 921.3C678.6 919.8 681.6 918.3 684.6 916.9C687.6 915.4 690.6 914.0 693.7 912.7C696.8 911.3 699.8 910.0 702.9 908.7C706.0 907.4 709.1 906.2 712.2 905.0C715.3 903.8 718.5 902.6 721.6 901.4C724.8 900.3 727.9 899.2 731.1 898.1C734.3 897.0 737.4 896.0 740.6 895.0C743.8 894.0 747.0 893.0 750.2 892.0C753.4 891.1 756.6 890.2 759.8 889.3C763.0 888.4 766.2 887.5 769.4 886.7C772.6 885.8 775.9 885.0 779.1 884.2C782.3 883.4 785.5 882.7 788.8 881.9C792.0 881.2 795.2 880.4 798.5 879.7C801.7 879.0 805.0 878.3 808.2 877.7C811.5 877.0 814.7 876.3 818.0 875.7C821.2 875.0 824.5 874.4 827.7 873.8C831.0 873.1 834.3 872.5 837.5 871.9C840.8 871.3 844.1 870.7 847.4 870.2C850.7 869.6 853.9 869.0 857.2 868.4C860.5 867.8 863.8 867.3 867.1 866.7C870.4 866.1 873.7 865.6 877.0 865.0C880.3 864.4 883.6 863.9 886.8 863.3C890.2 862.7 893.5 862.2 896.8 861.6C900.1 861.0 903.4 860.4 906.7 859.9C910.0 859.3 913.3 858.7 916.6 858.1C919.9 857.5 923.2 856.9 926.6 856.3C929.9 855.7 933.2 855.1 936.5 854.5C939.8 853.9 943.2 853.3 946.5 852.7C949.8 852.1 953.1 851.6 956.5 851.0C959.8 850.4 963.1 849.8 966.4 849.2C969.8 848.6 973.1 848.1 976.4 847.5C979.8 846.9 983.1 846.4 986.4 845.8C989.8 845.3 993.1 844.7 996.4 844.2C999.8 843.7 1003.1 843.2 1006.4 842.7C1009.8 842.1 1013.1 841.6 1016.4 841.1C1019.8 840.7 1023.1 840.2 1026.4 839.7C1029.8 839.2 1033.1 838.7 1036.4 838.3C1039.8 837.8 1043.1 837.3 1046.4 836.8C1049.8 836.4 1053.1 835.9 1056.4 835.4C1059.8 834.9 1063.1 834.5 1066.4 834.0C1069.7 833.5 1073.1 833.0 1076.4 832.5C1079.7 832.0 1083.1 831.5 1086.4 831.0C1089.7 830.5 1093.0 830.0 1096.4 829.5C1099.7 828.9 1103.0 828.4 1106.3 827.8C1109.6 827.3 1113.0 826.7 1116.3 826.1C1119.6 825.5 1122.9 825.0 1126.2 824.4C1129.5 823.7 1132.9 823.1 1136.2 822.5C1139.5 821.9 1142.8 821.3 1146.1 820.6C1149.4 820.0 1152.7 819.3 1156.0 818.7C1159.3 818.0 1162.6 817.3 1165.9 816.6C1169.2 816.0 1172.5 815.3 1175.8 814.6C1179.1 813.9 1182.3 813.2 1185.6 812.4C1188.9 811.7 1192.2 811.0 1195.5 810.3C1198.7 809.5 1202.0 808.8 1205.3 808.1C1208.6 807.3 1211.8 806.6 1215.1 805.8C1218.4 805.0 1221.6 804.3 1224.9 803.5C1228.1 802.7 1231.4 801.9 1234.7 801.2C1237.9 800.4 1241.2 799.6 1244.4 798.8C1247.7 798.0 1250.9 797.2 1254.1 796.4C1257.4 795.6 1260.6 794.8 1263.9 793.9C1267.1 793.1 1270.3 792.3 1273.6 791.5C1276.8 790.6 1280.1 789.8 1283.3 789.0C1286.5 788.1 1289.7 787.3 1293.0 786.4C1296.2 785.6 1299.4 784.7 1302.7 783.9C1305.9 783.0 1309.1 782.1 1312.3 781.3C1315.6 780.4 1318.8 779.5 1322.0 778.7C1325.2 777.8 1328.4 776.9 1331.7 776.0C1334.9 775.1 1338.1 774.3 1341.3 773.4C1344.6 772.5 1347.8 771.6 1351.0 770.7C1354.2 769.8 1357.4 768.9 1360.6 768.0C1363.9 767.1 1367.1 766.2 1370.3 765.3C1373.5 764.4 1376.7 763.5 1380.0 762.6C1383.2 761.7 1386.4 760.8 1389.6 759.8C1392.8 758.9 1396.1 758.0 1399.3 757.1C1402.5 756.2 1405.7 755.3 1408.9 754.3C1412.2 753.4 1415.4 752.5 1418.6 751.6C1421.8 750.7 1425.1 749.7 1428.3 748.8C1431.5 747.9 1434.8 747.0 1438.0 746.0C1441.2 745.1 1444.5 744.2 1447.7 743.3C1450.9 742.3 1454.2 741.4 1457.4 740.5C1460.6 739.6 1463.9 738.6 1467.1 737.7C1470.3 736.8 1473.6 735.9 1476.8 734.9C1480.1 734.0 1483.3 733.0 1486.5 732.1C1489.8 731.2 1493.0 730.2 1496.2 729.2C1499.5 728.3 1502.7 727.3 1505.9 726.4C1509.2 725.4 1512.4 724.4 1515.6 723.4C1518.8 722.4 1522.0 721.4 1525.3 720.4C1528.5 719.4 1531.7 718.4 1534.9 717.4C1538.1 716.4 1541.3 715.3 1544.5 714.3C1547.7 713.2 1550.9 712.1 1554.0 711.1C1557.2 710.0 1560.4 708.9 1563.6 707.8C1566.7 706.7 1569.9 705.5 1573.0 704.4C1576.2 703.2 1579.3 702.1 1582.5 700.9C1585.6 699.7 1588.7 698.5 1591.8 697.3C1594.9 696.1 1598.0 694.8 1601.1 693.6C1604.2 692.3 1607.3 691.1 1610.4 689.7C1613.4 688.4 1616.5 687.1 1619.6 685.8C1622.6 684.4 1625.6 683.1 1628.7 681.7C1631.7 680.3 1634.7 678.8 1637.7 677.4C1640.7 675.9 1643.7 674.5 1646.6 673.0C1649.6 671.5 1652.5 669.9 1655.5 668.4C1658.4 666.8 1661.3 665.2 1664.2 663.6C1667.1 662.0 1670.0 660.3 1672.9 658.7C1675.8 657.0 1678.6 655.3 1681.5 653.5C1684.3 651.8 1687.1 650.1 1689.9 648.3C1692.8 646.5 1695.6 644.7 1698.3 642.8C1701.1 641.0 1703.9 639.1 1706.7 637.2C1709.4 635.4 1712.2 633.4 1714.9 631.5C1717.7 629.6 1720.4 627.6 1723.1 625.6C1725.8 623.7 1728.5 621.6 1731.2 619.6C1733.9 617.6 1736.6 615.5 1739.2 613.5C1741.9 611.4 1744.5 609.3 1747.2 607.2C1749.8 605.1 1752.5 603.0 1755.1 600.9C1757.8 598.8 1760.4 596.7 1763.0 594.5C1765.6 592.4 1768.2 590.2 1770.8 588.1C1773.4 585.9 1776.0 583.7 1778.6 581.6C1781.2 579.4 1783.8 577.2 1786.4 575.1C1789.0 572.9 1791.6 570.7 1794.2 568.5C1796.8 566.4 1799.3 564.2 1801.9 562.1C1804.5 559.9 1807.1 557.7 1809.7 555.6C1812.2 553.4 1814.8 551.3 1817.4 549.1C1820.0 547.0 1822.6 544.9 1825.1 542.7C1827.7 540.6 1830.3 538.5 1832.9 536.3C1835.4 534.2 1838.0 532.1 1840.6 529.9C1843.1 527.8 1845.7 525.7 1848.3 523.6C1850.9 521.5 1853.4 519.3 1856.0 517.2C1858.6 515.1 1861.2 513.0 1863.7 510.8C1866.3 508.7 1868.9 506.6 1871.4 504.5C1874.0 502.4 1876.6 500.2 1879.2 498.1C1881.7 496.0 1884.3 493.9 1886.9 491.7C1889.5 489.6 1892.0 487.5 1894.6 485.3C1897.2 483.2 1899.8 481.1 1902.3 478.9C1904.9 476.8 1907.5 474.6 1910.1 472.5C1912.6 470.3 1915.2 468.2 1917.8 466.0C1920.4 463.9 1923.0 461.7 1925.5 459.5C1928.1 457.4 1930.7 455.2 1933.3 453.0C1931.8 456.0 1930.4 459.1 1928.9 462.1C1927.4 465.1 1925.8 468.0 1924.2 471.0C1922.5 473.9 1920.9 476.8 1919.2 479.6C1917.4 482.5 1915.7 485.3 1913.9 488.1C1912.1 490.9 1910.3 493.7 1908.4 496.5C1906.6 499.2 1904.7 502.0 1902.7 504.7C1900.8 507.4 1898.9 510.1 1896.9 512.7C1894.9 515.4 1892.9 518.1 1890.9 520.7C1888.8 523.3 1886.8 526.0 1884.7 528.6C1882.6 531.2 1880.5 533.8 1878.4 536.4C1876.3 539.0 1874.2 541.5 1872.1 544.1C1870.0 546.7 1867.8 549.3 1865.7 551.8C1863.5 554.4 1861.4 557.0 1859.2 559.5C1857.1 562.1 1854.9 564.6 1852.8 567.2C1850.6 569.8 1848.4 572.3 1846.3 574.9C1844.1 577.4 1841.9 580.0 1839.8 582.5C1837.6 585.1 1835.4 587.6 1833.2 590.1C1831.0 592.7 1828.8 595.2 1826.6 597.8C1824.4 600.3 1822.3 602.8 1820.0 605.3C1817.8 607.9 1815.6 610.4 1813.4 612.9C1811.2 615.4 1809.0 617.9 1806.8 620.4C1804.6 622.9 1802.3 625.4 1800.1 627.9C1797.9 630.4 1795.6 632.9 1793.4 635.4C1791.2 637.9 1788.9 640.4 1786.7 642.9C1784.4 645.4 1782.2 647.8 1780.0 650.3C1777.7 652.8 1775.4 655.2 1773.2 657.7C1770.9 660.2 1768.7 662.6 1766.4 665.1C1764.1 667.5 1761.9 670.0 1759.6 672.4C1757.3 674.9 1755.1 677.3 1752.8 679.8C1750.5 682.2 1748.2 684.7 1745.9 687.1C1743.7 689.5 1741.4 692.0 1739.1 694.4C1736.8 696.8 1734.5 699.3 1732.2 701.7C1729.9 704.1 1727.6 706.6 1725.3 709.0C1723.0 711.4 1720.7 713.8 1718.4 716.2C1716.1 718.6 1713.8 721.1 1711.5 723.5C1709.2 725.9 1706.9 728.3 1704.6 730.7C1702.3 733.1 1700.0 735.5 1697.6 737.9C1695.3 740.3 1693.0 742.7 1690.7 745.2C1688.4 747.6 1686.1 750.0 1683.7 752.4C1681.4 754.8 1679.1 757.2 1676.8 759.6C1674.5 762.0 1672.1 764.4 1669.8 766.8C1667.5 769.2 1665.2 771.6 1662.9 773.9C1660.5 776.3 1658.2 778.7 1655.9 781.1C1653.5 783.5 1651.2 785.9 1648.9 788.3C1646.6 790.7 1644.2 793.1 1641.9 795.5C1639.6 797.9 1637.2 800.3 1634.9 802.6C1632.5 805.0 1630.2 807.4 1627.9 809.8C1625.5 812.2 1623.2 814.5 1620.8 816.9C1618.5 819.3 1616.1 821.7 1613.8 824.0C1611.4 826.4 1609.0 828.7 1606.7 831.1C1604.3 833.5 1601.9 835.8 1599.6 838.2C1597.2 840.5 1594.8 842.9 1592.5 845.2C1590.1 847.6 1587.7 849.9 1585.3 852.2C1582.9 854.6 1580.5 856.9 1578.1 859.2C1575.7 861.5 1573.3 863.8 1570.9 866.1C1568.5 868.5 1566.1 870.8 1563.7 873.1C1561.2 875.4 1558.8 877.7 1556.4 879.9C1554.0 882.2 1551.5 884.5 1549.1 886.8C1546.6 889.0 1544.2 891.3 1541.7 893.6C1539.3 895.8 1536.8 898.1 1534.3 900.3C1531.9 902.6 1529.4 904.8 1526.9 907.0C1524.4 909.3 1521.9 911.5 1519.4 913.7C1516.9 915.9 1514.4 918.1 1511.9 920.3C1509.4 922.5 1506.9 924.7 1504.3 926.9C1501.8 929.0 1499.3 931.2 1496.7 933.4C1494.2 935.5 1491.6 937.7 1489.0 939.8C1486.5 941.9 1483.9 944.1 1481.3 946.2C1478.7 948.3 1476.1 950.4 1473.5 952.5C1470.9 954.6 1468.3 956.7 1465.7 958.8C1463.1 960.8 1460.4 962.9 1457.8 965.0C1455.2 967.0 1452.5 969.1 1449.9 971.1C1447.2 973.2 1444.6 975.2 1441.9 977.2C1439.2 979.3 1436.6 981.3 1433.9 983.3C1431.2 985.3 1428.6 987.3 1425.9 989.4C1423.2 991.4 1420.5 993.4 1417.8 995.4C1415.1 997.4 1412.4 999.3 1409.7 1001.3C1407.0 1003.3 1404.3 1005.3 1401.6 1007.3C1398.9 1009.3 1396.2 1011.2 1393.5 1013.2C1390.8 1015.2 1388.1 1017.2 1385.4 1019.1C1382.7 1021.1 1380.0 1023.1 1377.2 1025.0C1374.5 1027.0 1371.8 1029.0 1369.1 1030.9C1366.4 1032.9 1363.7 1034.9 1361.0 1036.8C1358.3 1038.8 1355.6 1040.8 1352.9 1042.7C1350.2 1044.7 1347.5 1046.7 1344.8 1048.6C1342.1 1050.6 1339.4 1052.6 1336.7 1054.6C1334.0 1056.5 1331.3 1058.5 1328.6 1060.5C1325.9 1062.5 1323.3 1064.5 1320.6 1066.4C1317.9 1068.4 1315.2 1070.4 1312.6 1072.4C1309.9 1074.4 1307.2 1076.4 1304.5 1078.4C1301.9 1080.4 1299.2 1082.4 1296.5 1084.4C1293.9 1086.4 1291.2 1088.4 1288.6 1090.4C1285.9 1092.4 1283.2 1094.4 1280.6 1096.4C1277.9 1098.4 1275.3 1100.4 1272.6 1102.4C1270.0 1104.4 1267.3 1106.4 1264.7 1108.4C1262.0 1110.4 1259.4 1112.4 1256.7 1114.4C1254.1 1116.5 1251.4 1118.5 1248.8 1120.5C1246.1 1122.5 1243.5 1124.5 1240.8 1126.5C1238.2 1128.5 1235.5 1130.6 1232.9 1132.6C1230.3 1134.6 1227.6 1136.6 1225.0 1138.6C1222.3 1140.7 1219.7 1142.7 1217.0 1144.7C1214.4 1146.7 1211.7 1148.7 1209.1 1150.8C1206.4 1152.8 1203.8 1154.8 1201.2 1156.8C1198.5 1158.8 1195.9 1160.9 1193.2 1162.9C1190.6 1164.9 1187.9 1166.9 1185.3 1169.0C1182.6 1171.0 1179.9 1173.0 1177.3 1175.0C1174.6 1177.1 1172.0 1179.1 1169.3 1181.1C1166.7 1183.1 1164.0 1185.1 1161.3 1187.2C1158.7 1189.2 1156.0 1191.2 1153.4 1193.2C1150.7 1195.2 1148.0 1197.3 1145.3 1199.3C1142.7 1201.3 1140.0 1203.3 1137.3 1205.3C1134.6 1207.4 1132.0 1209.4 1129.3 1211.4C1126.6 1213.4 1123.9 1215.4 1121.2 1217.4C1118.5 1219.5 1115.8 1221.5 1113.2 1223.5C1110.5 1225.5 1107.8 1227.5 1105.1 1229.5C1102.4 1231.5 1099.6 1233.5 1096.9 1235.5C1094.2 1237.5 1091.5 1239.6 1088.8 1241.6C1086.1 1243.6 1083.4 1245.6 1080.6 1247.6C1077.9 1249.6 1075.2 1251.6 1072.4 1253.6C1069.7 1255.6 1067.0 1257.5 1064.2 1259.5C1061.5 1261.5 1058.7 1263.5 1055.9 1265.4C1053.2 1267.4 1050.4 1269.3 1047.6 1271.2C1044.8 1273.1 1042.0 1275.0 1039.2 1276.9C1036.4 1278.8 1033.6 1280.6 1030.7 1282.5C1027.9 1284.3 1025.0 1286.1 1022.2 1287.8C1019.3 1289.6 1016.4 1291.3 1013.5 1293.0C1010.6 1294.7 1007.7 1296.3 1004.8 1298.0C1001.8 1299.6 998.9 1301.1 995.9 1302.6C992.9 1304.2 989.9 1305.6 986.9 1307.1C983.9 1308.5 980.9 1309.8 977.8 1311.2C974.7 1312.5 971.7 1313.7 968.5 1314.9C965.4 1316.1 962.3 1317.3 959.1 1318.3C956.0 1319.3 952.8 1320.3 949.7 1321.2C946.5 1322.0 943.3 1322.8 940.1 1323.4C937.0 1324.0 933.8 1324.5 930.6 1324.8C927.5 1325.1 924.3 1325.3 921.1 1325.3C918.0 1325.2 914.9 1325.1 911.8 1324.7C908.7 1324.2 905.7 1323.6 902.7 1322.8C899.6 1322.0 896.6 1321.0 893.7 1319.9C890.7 1318.7 887.7 1317.4 884.9 1316.0C881.9 1314.5 879.0 1312.8 876.2 1311.1C873.3 1309.4 870.5 1307.5 867.8 1305.5C865.0 1303.5 862.2 1301.4 859.5 1299.3C856.7 1297.1 854.0 1294.8 851.4 1292.5C848.7 1290.2 846.1 1287.8 843.4 1285.3C840.8 1282.9 838.2 1280.4 835.7 1277.9C833.1 1275.4 830.6 1272.9 828.1 1270.3C825.6 1267.8 823.1 1265.3 820.6 1262.7C818.2 1260.2 815.8 1257.7 813.3 1255.2C811.0 1252.7 808.6 1250.2 806.2 1247.8C803.9 1245.3 801.5 1242.9 799.2 1240.5C796.9 1238.1 794.5 1235.7 792.2 1233.3C789.9 1230.9 787.6 1228.6 785.3 1226.2C783.0 1223.9 780.8 1221.5 778.5 1219.2C776.2 1216.9 773.9 1214.6 771.6 1212.3C769.3 1210.1 767.0 1207.8 764.7 1205.5C762.3 1203.3 760.0 1201.1 757.7 1198.8C755.3 1196.6 753.0 1194.4 750.6 1192.2C748.2 1190.0 745.8 1187.9 743.4 1185.7C740.9 1183.5 738.5 1181.4 736.0 1179.2C733.5 1177.1 731.0 1175.0 728.5 1172.9C725.9 1170.8 723.4 1168.7 720.8 1166.6C718.1 1164.5 715.5 1162.4 712.8 1160.4C710.2 1158.4 707.5 1156.3 704.7 1154.3C702.0 1152.3 699.2 1150.4 696.5 1148.4C693.7 1146.5 690.9 1144.6 688.1 1142.7C685.2 1140.8 682.4 1139.0 679.5 1137.2C676.6 1135.4 673.7 1133.6 670.8 1131.9C667.9 1130.2 665.0 1128.5 662.0 1126.8C659.1 1125.2 656.1 1123.6 653.1 1122.0C650.1 1120.5 647.1 1119.0 644.1 1117.5C641.1 1116.1 638.1 1114.7 635.0 1113.4C632.0 1112.0 628.9 1110.8 625.9 1109.5C622.8 1108.2 619.7 1107.0 616.7 1105.8C613.6 1104.6 610.5 1103.4 607.4 1102.3C604.3 1101.1 601.2 1099.9 598.1 1098.8C595.0 1097.6 591.9 1096.4 588.8 1095.2C585.7 1094.0 582.5 1092.8 579.4 1091.5C576.3 1090.3 573.2 1089.0 570.1 1087.7C567.0 1086.3 563.9 1084.9 560.8 1083.5C557.7 1082.1 554.6 1080.5 551.5 1079.1C548.4 1077.7 545.4 1076.2 542.2 1075.0C539.2 1073.8 536.1 1073.0 533.0 1072.0Z"/>
<path stroke="#33ff33" d="M533.0 1034.0C534.1 1030.8 535.2 1027.6 536.4 1024.4C537.6 1021.3 538.8 1018.2 540.1 1015.0C541.4 1011.9 542.8 1008.9 544.2 1005.8C545.6 1002.8 547.1 999.8 548.6 996.8C550.1 993.8 551.7 990.9 553.4 988.0C555.0 985.1 556.8 982.3 558.5 979.5C560.3 976.7 562.2 974.0 564.1 971.3C566.0 968.6 568.0 965.9 570.1 963.3C572.2 960.8 574.3 958.2 576.5 955.8C578.7 953.3 581.0 950.9 583.4 948.6C585.7 946.2 588.2 943.9 590.7 941.7C593.1 939.5 595.7 937.4 598.3 935.3C600.9 933.2 603.6 931.2 606.3 929.3C609.0 927.3 611.8 925.4 614.6 923.6C617.4 921.8 620.3 920.1 623.2 918.4C626.0 916.7 629.0 915.1 631.9 913.5C634.9 911.9 637.9 910.4 640.9 909.0C643.9 907.6 646.9 906.2 650.0 904.9C653.1 903.5 656.2 902.3 659.3 901.1C662.4 899.8 665.6 898.7 668.8 897.6C671.9 896.4 675.1 895.4 678.3 894.4C681.5 893.3 684.8 892.4 688.0 891.4C691.3 890.5 694.5 889.6 697.8 888.8C701.1 887.9 704.4 887.1 707.7 886.3C711.0 885.5 714.3 884.8 717.6 884.1C720.9 883.4 724.3 882.7 727.6 882.1C730.9 881.4 734.3 880.8 737.6 880.2C740.9 879.6 744.3 879.0 747.6 878.5C751.0 878.0 754.3 877.4 757.7 876.9C761.0 876.4 764.3 876.0 767.7 875.5C771.0 875.1 774.4 874.6 777.7 874.2C781.0 873.8 784.4 873.4 787.7 873.0C791.1 872.6 794.4 872.2 797.7 871.9C801.1 871.5 804.4 871.2 807.8 870.9C811.1 870.5 814.4 870.2 817.8 869.9C821.1 869.6 824.4 869.3 827.8 869.1C831.1 868.8 834.4 868.5 837.8 868.3C841.1 868.0 844.4 867.8 847.7 867.5C851.1 867.3 854.4 867.0 857.7 866.8C861.1 866.6 864.4 866.4 867.7 866.2C871.0 865.9 874.4 865.7 877.7 865.5C881.0 865.3 884.4 865.1 887.7 864.9C891.0 864.7 894.3 864.5 897.7 864.3C901.0 864.1 904.3 863.9 907.6 863.7C911.0 863.5 914.3 863.3 917.6 863.1C920.9 862.9 924.2 862.7 927.6 862.5C930.9 862.3 934.2 862.1 937.5 861.9C940.8 861.6 944.2 861.4 947.5 861.2C950.8 861.0 954.1 860.7 957.4 860.5C960.8 860.2 964.1 860.0 967.4 859.7C970.7 859.4 974.0 859.2 977.4 858.9C980.7 858.6 984.0 858.3 987.3 858.0C990.6 857.7 993.9 857.3 997.2 857.0C1000.6 856.7 1003.9 856.3 1007.2 856.0C1010.5 855.6 1013.8 855.2 1017.1 854.8C1020.5 854.4 1023.8 854.0 1027.1 853.6C1030.4 853.2 1033.7 852.7 1037.0 852.3C1040.3 851.9 1043.6 851.4 1047.0 851.0C1050.3 850.5 1053.6 850.0 1056.9 849.5C1060.2 849.1 1063.5 848.6 1066.8 848.1C1070.1 847.6 1073.4 847.1 1076.8 846.5C1080.1 846.0 1083.4 845.5 1086.7 845.0C1090.0 844.4 1093.3 843.9 1096.6 843.4C1099.9 842.8 1103.2 842.3 1106.5 841.7C1109.8 841.2 1113.2 840.6 1116.5 840.1C1119.8 839.5 1123.1 838.9 1126.4 838.4C1129.7 837.8 1133.0 837.2 1136.3 836.7C1139.6 836.1 1142.9 835.5 1146.2 835.0C1149.5 834.4 1152.8 833.8 1156.2 833.3C1159.5 832.7 1162.8 832.1 1166.1 831.5C1169.4 831.0 1172.7 830.4 1176.0 829.8C1179.3 829.2 1182.6 828.7 1185.9 828.1C1189.2 827.5 1192.5 826.9 1195.8 826.4C1199.1 825.8 1202.4 825.2 1205.8 824.6C1209.1 824.0 1212.4 823.5 1215.7 822.9C1219.0 822.3 1222.3 821.7 1225.6 821.1C1228.9 820.5 1232.2 820.0 1235.5 819.4C1238.8 818.8 1242.1 818.2 1245.4 817.6C1248.7 817.0 1252.0 816.4 1255.3 815.8C1258.6 815.2 1262.0 814.6 1265.3 814.1C1268.6 813.5 1271.9 812.9 1275.2 812.3C1278.5 811.7 1281.8 811.1 1285.1 810.5C1288.4 809.8 1291.7 809.2 1295.0 808.6C1298.3 808.0 1301.6 807.4 1304.9 806.8C1308.2 806.2 1311.5 805.5 1314.8 804.9C1318.1 804.3 1321.4 803.7 1324.7 803.0C1328.0 802.4 1331.3 801.8 1334.6 801.1C1337.9 800.5 1341.2 799.8 1344.5 799.2C1347.8 798.5 1351.1 797.9 1354.3 797.2C1357.6 796.5 1360.9 795.9 1364.2 795.2C1367.5 794.5 1370.8 793.8 1374.1 793.1C1377.3 792.5 1380.6 791.8 1383.9 791.1C1387.2 790.4 1390.5 789.7 1393.7 788.9C1397.0 788.2 1400.3 787.5 1403.6 786.8C1406.8 786.0 1410.1 785.3 1413.4 784.6C1416.6 783.8 1419.9 783.1 1423.1 782.3C1426.4 781.5 1429.7 780.8 1432.9 780.0C1436.2 779.2 1439.4 778.4 1442.7 777.6C1445.9 776.8 1449.2 776.0 1452.4 775.2C1455.7 774.4 1458.9 773.6 1462.1 772.8C1465.4 771.9 1468.6 771.1 1471.8 770.2C1475.1 769.4 1478.3 768.5 1481.5 767.6C1484.7 766.8 1488.0 765.9 1491.2 765.0C1494.4 764.1 1497.6 763.2 1500.8 762.3C1504.0 761.3 1507.2 760.4 1510.4 759.5C1513.6 758.5 1516.8 757.6 1520.0 756.6C1523.2 755.6 1526.4 754.6 1529.6 753.6C1532.7 752.6 1535.9 751.6 1539.1 750.6C1542.2 749.5 1545.4 748.5 1548.5 747.4C1551.7 746.3 1554.8 745.2 1558.0 744.1C1561.1 743.0 1564.2 741.8 1567.3 740.6C1570.4 739.5 1573.5 738.3 1576.6 737.1C1579.7 735.9 1582.8 734.6 1585.9 733.3C1588.9 732.1 1592.0 730.8 1595.0 729.4C1598.1 728.1 1601.1 726.8 1604.1 725.4C1607.2 724.0 1610.2 722.6 1613.2 721.1C1616.1 719.7 1619.1 718.2 1622.1 716.7C1625.1 715.1 1628.0 713.6 1630.9 712.0C1633.9 710.4 1636.8 708.8 1639.7 707.1C1642.6 705.4 1645.5 703.7 1648.3 702.0C1651.2 700.3 1654.1 698.5 1656.9 696.7C1659.7 694.9 1662.5 693.0 1665.4 691.2C1668.2 689.3 1671.0 687.4 1673.7 685.5C1676.5 683.6 1679.3 681.6 1682.0 679.7C1684.8 677.7 1687.5 675.7 1690.3 673.7C1693.0 671.7 1695.7 669.6 1698.4 667.6C1701.1 665.5 1703.8 663.4 1706.5 661.4C1709.2 659.3 1711.8 657.2 1714.5 655.1C1717.2 652.9 1719.8 650.8 1722.5 648.7C1725.1 646.5 1727.8 644.4 1730.4 642.3C1733.0 640.1 1735.6 638.0 1738.3 635.8C1740.9 633.6 1743.5 631.5 1746.1 629.3C1748.7 627.2 1751.3 625.0 1753.9 622.8C1756.5 620.7 1759.0 618.5 1761.6 616.4C1764.2 614.2 1766.8 612.1 1769.3 609.9C1771.9 607.8 1774.5 605.6 1777.0 603.5C1779.6 601.3 1782.2 599.2 1784.7 597.0C1787.3 594.9 1789.8 592.8 1792.4 590.6C1794.9 588.5 1797.5 586.3 1800.0 584.2C1802.6 582.1 1805.1 579.9 1807.7 577.8C1810.2 575.7 1812.8 573.6 1815.3 571.5C1817.9 569.3 1820.4 567.2 1823.0 565.1C1825.6 563.0 1828.1 560.9 1830.7 558.8C1833.2 556.7 1835.8 554.6 1838.3 552.5C1840.9 550.4 1843.5 548.3 1846.0 546.2C1848.6 544.1 1851.2 542.0 1853.8 539.9C1856.3 537.8 1858.9 535.7 1861.5 533.7C1864.1 531.6 1866.7 529.5 1869.3 527.5C1871.9 525.4 1874.5 523.3 1877.1 521.3C1879.7 519.2 1882.3 517.1 1885.0 515.1C1887.6 513.0 1890.2 511.0 1892.9 509.0C1895.5 506.9 1898.2 504.9 1900.8 502.9C1903.5 500.8 1906.2 498.8 1908.9 496.8C1911.5 494.8 1914.2 492.7 1916.9 490.7C1919.7 488.7 1922.4 486.7 1925.1 484.7C1927.8 482.7 1930.6 480.7 1933.3 478.8C1931.1 481.3 1929.0 483.8 1926.8 486.3C1924.7 488.9 1922.5 491.4 1920.4 493.9C1918.2 496.5 1916.0 499.0 1913.9 501.5C1911.7 504.1 1909.6 506.6 1907.4 509.2C1905.3 511.7 1903.1 514.3 1901.0 516.8C1898.8 519.4 1896.7 522.0 1894.5 524.5C1892.4 527.1 1890.2 529.6 1888.1 532.2C1885.9 534.8 1883.8 537.3 1881.6 539.9C1879.4 542.4 1877.3 545.0 1875.1 547.6C1873.0 550.1 1870.8 552.7 1868.7 555.3C1866.5 557.8 1864.4 560.4 1862.2 563.0C1860.0 565.5 1857.9 568.1 1855.7 570.6C1853.5 573.2 1851.4 575.8 1849.2 578.3C1847.0 580.9 1844.9 583.4 1842.7 586.0C1840.5 588.5 1838.4 591.1 1836.2 593.6C1834.0 596.2 1831.8 598.7 1829.6 601.2C1827.5 603.8 1825.3 606.3 1823.1 608.8C1820.9 611.4 1818.7 613.9 1816.5 616.4C1814.3 618.9 1812.1 621.5 1809.9 624.0C1807.7 626.5 1805.5 629.0 1803.3 631.5C1801.1 634.0 1798.9 636.5 1796.7 639.0C1794.5 641.5 1792.2 643.9 1790.0 646.4C1787.8 648.9 1785.6 651.4 1783.3 653.8C1781.1 656.3 1778.9 658.7 1776.6 661.2C1774.4 663.6 1772.1 666.1 1769.9 668.5C1767.6 670.9 1765.4 673.3 1763.1 675.8C1760.8 678.2 1758.6 680.6 1756.3 683.0C1754.0 685.4 1751.7 687.8 1749.5 690.2C1747.2 692.6 1744.9 695.0 1742.6 697.4C1740.3 699.8 1738.0 702.1 1735.7 704.5C1733.4 706.9 1731.1 709.3 1728.8 711.6C1726.5 714.0 1724.2 716.3 1721.9 718.7C1719.5 721.0 1717.2 723.4 1714.9 725.7C1712.5 728.1 1710.2 730.4 1707.9 732.7C1705.5 735.1 1703.2 737.4 1700.8 739.7C1698.5 742.1 1696.1 744.4 1693.7 746.7C1691.4 749.0 1689.0 751.3 1686.6 753.6C1684.3 755.9 1681.9 758.2 1679.5 760.5C1677.1 762.8 1674.7 765.1 1672.3 767.4C1669.9 769.7 1667.5 772.0 1665.1 774.3C1662.7 776.6 1660.3 778.9 1657.9 781.2C1655.5 783.5 1653.1 785.7 1650.6 788.0C1648.2 790.3 1645.8 792.6 1643.3 794.8C1640.9 797.1 1638.4 799.4 1636.0 801.6C1633.5 803.9 1631.1 806.2 1628.6 808.4C1626.2 810.7 1623.7 813.0 1621.2 815.2C1618.7 817.5 1616.3 819.7 1613.8 822.0C1611.3 824.3 1608.8 826.5 1606.3 828.8C1603.8 831.0 1601.3 833.3 1598.8 835.5C1596.3 837.7 1593.8 840.0 1591.3 842.2C1588.7 844.4 1586.2 846.7 1583.7 848.9C1581.2 851.1 1578.6 853.4 1576.1 855.6C1573.6 857.8 1571.0 860.0 1568.5 862.2C1565.9 864.4 1563.4 866.6 1560.8 868.8C1558.3 871.0 1555.7 873.2 1553.2 875.4C1550.6 877.6 1548.0 879.8 1545.5 882.0C1542.9 884.1 1540.3 886.3 1537.7 888.5C1535.2 890.7 1532.6 892.8 1530.0 895.0C1527.4 897.1 1524.8 899.3 1522.2 901.4C1519.6 903.6 1517.0 905.7 1514.4 907.8C1511.8 909.9 1509.2 912.1 1506.6 914.2C1504.0 916.3 1501.4 918.4 1498.8 920.5C1496.1 922.6 1493.5 924.7 1490.9 926.8C1488.3 928.9 1485.7 930.9 1483.0 933.0C1480.4 935.1 1477.8 937.1 1475.1 939.2C1472.5 941.2 1469.9 943.3 1467.2 945.3C1464.6 947.4 1461.9 949.4 1459.3 951.4C1456.7 953.5 1454.0 955.5 1451.4 957.5C1448.7 959.5 1446.1 961.6 1443.4 963.6C1440.7 965.6 1438.1 967.6 1435.4 969.6C1432.8 971.6 1430.1 973.6 1427.4 975.5C1424.8 977.5 1422.1 979.5 1419.5 981.5C1416.8 983.5 1414.1 985.4 1411.4 987.4C1408.8 989.4 1406.1 991.4 1403.4 993.3C1400.8 995.3 1398.1 997.2 1395.4 999.2C1392.7 1001.2 1390.0 1003.1 1387.4 1005.1C1384.7 1007.0 1382.0 1008.9 1379.3 1010.9C1376.6 1012.8 1374.0 1014.8 1371.3 1016.7C1368.6 1018.7 1365.9 1020.6 1363.2 1022.5C1360.5 1024.5 1357.9 1026.4 1355.2 1028.3C1352.5 1030.3 1349.8 1032.2 1347.1 1034.1C1344.4 1036.0 1341.7 1038.0 1339.0 1039.9C1336.3 1041.8 1333.7 1043.7 1331.0 1045.7C1328.3 1047.6 1325.6 1049.5 1322.9 1051.4C1320.2 1053.4 1317.5 1055.3 1314.8 1057.2C1312.1 1059.1 1309.4 1061.0 1306.8 1063.0C1304.1 1064.9 1301.4 1066.8 1298.7 1068.7C1296.0 1070.7 1293.3 1072.6 1290.6 1074.5C1287.9 1076.4 1285.2 1078.4 1282.5 1080.3C1279.9 1082.2 1277.2 1084.1 1274.5 1086.1C1271.8 1088.0 1269.1 1089.9 1266.4 1091.9C1263.7 1093.8 1261.1 1095.7 1258.4 1097.7C1255.7 1099.6 1253.0 1101.5 1250.3 1103.5C1247.6 1105.4 1245.0 1107.4 1242.3 1109.3C1239.6 1111.3 1236.9 1113.2 1234.2 1115.2C1231.6 1117.1 1228.9 1119.1 1226.2 1121.0C1223.5 1123.0 1220.8 1124.9 1218.2 1126.9C1215.5 1128.8 1212.8 1130.8 1210.1 1132.8C1207.4 1134.7 1204.8 1136.7 1202.1 1138.6C1199.4 1140.6 1196.7 1142.6 1194.1 1144.5C1191.4 1146.5 1188.7 1148.5 1186.0 1150.4C1183.3 1152.4 1180.6 1154.4 1178.0 1156.3C1175.3 1158.3 1172.6 1160.3 1169.9 1162.2C1167.2 1164.2 1164.5 1166.2 1161.9 1168.2C1159.2 1170.1 1156.5 1172.1 1153.8 1174.1C1151.1 1176.1 1148.4 1178.0 1145.7 1180.0C1143.0 1182.0 1140.3 1183.9 1137.6 1185.9C1134.9 1187.9 1132.2 1189.9 1129.6 1191.8C1126.9 1193.8 1124.2 1195.8 1121.4 1197.8C1118.7 1199.7 1116.0 1201.7 1113.3 1203.7C1110.6 1205.7 1107.9 1207.6 1105.2 1209.6C1102.5 1211.6 1099.8 1213.6 1097.1 1215.5C1094.3 1217.5 1091.6 1219.5 1088.9 1221.4C1086.2 1223.4 1083.5 1225.4 1080.7 1227.3C1078.0 1229.3 1075.3 1231.3 1072.5 1233.2C1069.8 1235.2 1067.1 1237.2 1064.3 1239.1C1061.6 1241.1 1058.8 1243.1 1056.1 1245.0C1053.3 1247.0 1050.6 1248.9 1047.8 1250.9C1045.1 1252.8 1042.3 1254.8 1039.6 1256.7C1036.8 1258.7 1034.0 1260.6 1031.3 1262.5C1028.5 1264.5 1025.7 1266.4 1022.9 1268.3C1020.2 1270.3 1017.4 1272.2 1014.6 1274.1C1011.8 1276.1 1009.0 1278.0 1006.2 1279.9C1003.4 1281.8 1000.6 1283.7 997.8 1285.6C995.0 1287.5 992.2 1289.5 989.4 1291.3C986.6 1293.2 983.8 1295.1 980.9 1297.0C978.1 1298.8 975.3 1300.6 972.4 1302.4C969.5 1304.2 966.7 1306.0 963.8 1307.7C960.9 1309.4 958.0 1311.1 955.1 1312.7C952.2 1314.3 949.3 1315.9 946.3 1317.4C943.4 1318.9 940.5 1320.4 937.5 1321.8C934.5 1323.1 931.5 1324.5 928.5 1325.7C925.5 1326.9 922.4 1328.1 919.3 1329.2C916.3 1330.2 913.2 1331.2 910.1 1332.1C906.9 1333.0 903.8 1333.8 900.6 1334.5C897.5 1335.2 894.3 1335.8 891.1 1336.2C887.9 1336.7 884.7 1337.0 881.6 1337.3C878.4 1337.5 875.2 1337.6 872.0 1337.6C868.8 1337.5 865.7 1337.4 862.5 1337.1C859.4 1336.8 856.3 1336.3 853.2 1335.8C850.1 1335.2 847.0 1334.4 844.0 1333.5C841.0 1332.6 838.0 1331.5 835.1 1330.3C832.2 1329.1 829.3 1327.7 826.5 1326.1C823.7 1324.5 821.0 1322.7 818.3 1320.8C815.6 1318.9 813.0 1316.8 810.5 1314.6C807.9 1312.3 805.4 1309.9 803.0 1307.5C800.6 1305.0 798.2 1302.4 795.9 1299.8C793.5 1297.2 791.3 1294.5 789.0 1291.7C786.8 1289.0 784.6 1286.2 782.5 1283.4C780.3 1280.6 778.2 1277.8 776.2 1274.9C774.1 1272.1 772.1 1269.2 770.1 1266.3C768.1 1263.5 766.1 1260.6 764.2 1257.7C762.2 1254.8 760.3 1252.0 758.4 1249.1C756.5 1246.2 754.6 1243.4 752.8 1240.5C750.9 1237.7 749.1 1234.8 747.3 1232.0C745.4 1229.2 743.6 1226.3 741.8 1223.5C740.0 1220.7 738.2 1217.9 736.4 1215.1C734.6 1212.4 732.8 1209.6 731.0 1206.8C729.2 1204.1 727.4 1201.3 725.6 1198.6C723.8 1195.9 722.0 1193.1 720.2 1190.4C718.4 1187.7 716.5 1185.0 714.7 1182.3C712.8 1179.6 711.0 1176.9 709.1 1174.3C707.2 1171.6 705.3 1168.9 703.3 1166.3C701.4 1163.7 699.4 1161.0 697.4 1158.4C695.4 1155.8 693.4 1153.2 691.4 1150.6C689.3 1148.0 687.2 1145.5 685.1 1142.9C683.0 1140.4 680.9 1137.9 678.7 1135.4C676.5 1132.9 674.3 1130.4 672.1 1127.9C669.9 1125.4 667.6 1123.0 665.3 1120.6C663.0 1118.2 660.7 1115.8 658.4 1113.5C656.0 1111.1 653.6 1108.8 651.2 1106.5C648.8 1104.2 646.4 1102.0 643.9 1099.8C641.5 1097.5 639.0 1095.3 636.4 1093.2C633.9 1091.0 631.4 1088.9 628.8 1086.8C626.2 1084.7 623.6 1082.6 621.0 1080.6C618.3 1078.6 615.6 1076.6 613.0 1074.6C610.3 1072.6 607.5 1070.7 604.8 1068.8C602.0 1066.8 599.3 1065.0 596.5 1063.1C593.7 1061.2 590.8 1059.4 588.0 1057.6C585.1 1055.8 582.2 1054.0 579.3 1052.3C576.4 1050.6 573.5 1048.9 570.5 1047.4C567.5 1045.8 564.5 1044.3 561.4 1042.9C558.4 1041.6 555.3 1040.3 552.2 1039.1C549.1 1038.0 545.9 1036.9 542.7 1036.1C539.5 1035.2 536.2 1034.7 533.0 1034.0Z"/>
<path stroke="#ff8000" d="M533.0 1060.0C534.3 1056.9 535.5 1053.8 536.8 1050.7C538.1 1047.6 539.4 1044.5 540.8 1041.4C542.1 1038.4 543.5 1035.3 544.9 1032.3C546.3 1029.3 547.7 1026.2 549.2 1023.2C550.7 1020.2 552.2 1017.3 553.7 1014.3C555.3 1011.4 556.8 1008.4 558.5 1005.5C560.1 1002.6 561.8 999.7 563.5 996.9C565.2 994.0 566.9 991.2 568.8 988.4C570.6 985.6 572.4 982.8 574.3 980.1C576.2 977.4 578.2 974.7 580.1 972.0C582.1 969.4 584.2 966.8 586.3 964.2C588.4 961.6 590.5 959.1 592.7 956.6C594.9 954.1 597.1 951.6 599.4 949.2C601.7 946.8 604.1 944.4 606.4 942.1C608.8 939.8 611.3 937.5 613.7 935.3C616.2 933.1 618.8 930.9 621.3 928.8C623.9 926.7 626.5 924.6 629.2 922.6C631.8 920.5 634.5 918.6 637.2 916.6C640.0 914.7 642.8 912.8 645.6 911.0C648.4 909.1 651.2 907.3 654.1 905.6C657.0 903.8 659.9 902.1 662.8 900.5C665.7 898.8 668.7 897.2 671.7 895.7C674.7 894.1 677.7 892.6 680.8 891.1C683.8 889.6 686.9 888.2 690.0 886.8C693.0 885.4 696.2 884.1 699.3 882.8C702.4 881.5 705.6 880.2 708.7 879.0C711.9 877.8 715.0 876.6 718.2 875.4C721.4 874.3 724.6 873.2 727.8 872.2C731.0 871.1 734.3 870.1 737.5 869.1C740.7 868.1 744.0 867.2 747.2 866.3C750.4 865.4 753.7 864.6 756.9 863.8C760.2 863.0 763.4 862.2 766.7 861.4C769.9 860.7 773.2 860.0 776.4 859.3C779.7 858.6 782.9 858.0 786.2 857.4C789.5 856.8 792.7 856.2 796.0 855.7C799.3 855.1 802.5 854.6 805.8 854.1C809.1 853.6 812.3 853.2 815.6 852.7C818.9 852.3 822.2 851.9 825.5 851.5C828.7 851.1 832.0 850.7 835.3 850.4C838.6 850.0 841.9 849.7 845.2 849.4C848.4 849.1 851.7 848.8 855.0 848.5C858.3 848.2 861.6 848.0 864.9 847.7C868.2 847.5 871.5 847.2 874.8 847.0C878.1 846.8 881.4 846.6 884.7 846.4C888.0 846.2 891.3 846.0 894.6 845.8C897.9 845.6 901.2 845.4 904.5 845.2C907.8 845.1 911.2 844.9 914.5 844.7C917.8 844.5 921.1 844.4 924.4 844.2C927.7 844.0 931.0 843.9 934.3 843.7C937.7 843.5 941.0 843.3 944.3 843.2C947.6 843.0 950.9 842.8 954.3 842.6C957.6 842.4 960.9 842.2 964.2 842.0C967.5 841.8 970.9 841.6 974.2 841.4C977.5 841.2 980.8 840.9 984.2 840.7C987.5 840.4 990.8 840.2 994.1 839.9C997.5 839.6 1000.8 839.3 1004.1 839.0C1007.4 838.7 1010.8 838.3 1014.1 838.0C1017.4 837.7 1020.8 837.3 1024.1 836.9C1027.4 836.5 1030.7 836.1 1034.1 835.7C1037.4 835.3 1040.7 834.9 1044.1 834.5C1047.4 834.1 1050.7 833.6 1054.0 833.2C1057.4 832.7 1060.7 832.2 1064.0 831.7C1067.4 831.3 1070.7 830.8 1074.0 830.3C1077.3 829.8 1080.7 829.2 1084.0 828.7C1087.3 828.2 1090.6 827.7 1094.0 827.1C1097.3 826.6 1100.6 826.0 1104.0 825.5C1107.3 824.9 1110.6 824.3 1113.9 823.7C1117.3 823.2 1120.6 822.6 1123.9 822.0C1127.2 821.4 1130.6 820.8 1133.9 820.2C1137.2 819.6 1140.5 819.0 1143.8 818.4C1147.2 817.8 1150.5 817.1 1153.8 816.5C1157.1 815.9 1160.4 815.3 1163.7 814.6C1167.1 814.0 1170.4 813.3 1173.7 812.7C1177.0 812.1 1180.3 811.4 1183.6 810.8C1186.9 810.1 1190.3 809.5 1193.6 808.9C1196.9 808.2 1200.2 807.6 1203.5 806.9C1206.8 806.3 1210.1 805.6 1213.4 805.0C1216.7 804.3 1220.0 803.7 1223.3 803.0C1226.6 802.4 1229.9 801.7 1233.2 801.1C1236.5 800.4 1239.8 799.8 1243.1 799.2C1246.4 798.5 1249.7 797.9 1253.0 797.3C1256.2 796.6 1259.5 796.0 1262.8 795.4C1266.1 794.8 1269.4 794.1 1272.7 793.5C1275.9 792.9 1279.2 792.3 1282.5 791.7C1285.8 791.1 1289.1 790.4 1292.3 789.8C1295.6 789.2 1298.9 788.6 1302.2 788.0C1305.4 787.4 1308.7 786.8 1312.0 786.2C1315.2 785.6 1318.5 785.0 1321.8 784.4C1325.0 783.7 1328.3 783.1 1331.6 782.5C1334.8 781.9 1338.1 781.3 1341.4 780.7C1344.6 780.1 1347.9 779.5 1351.1 778.8C1354.4 778.2 1357.7 777.6 1360.9 777.0C1364.2 776.4 1367.4 775.8 1370.7 775.1C1373.9 774.5 1377.2 773.9 1380.5 773.2C1383.7 772.6 1387.0 772.0 1390.2 771.3C1393.5 770.7 1396.7 770.0 1400.0 769.4C1403.2 768.7 1406.5 768.1 1409.7 767.4C1413.0 766.8 1416.2 766.1 1419.5 765.4C1422.7 764.8 1426.0 764.1 1429.2 763.4C1432.5 762.7 1435.8 762.0 1439.0 761.3C1442.3 760.6 1445.5 759.9 1448.8 759.2C1452.0 758.5 1455.3 757.8 1458.5 757.0C1461.8 756.3 1465.0 755.6 1468.3 754.8C1471.5 754.1 1474.8 753.3 1478.0 752.6C1481.3 751.8 1484.5 751.1 1487.8 750.3C1491.0 749.5 1494.3 748.7 1497.5 747.9C1500.8 747.1 1504.0 746.3 1507.3 745.5C1510.5 744.6 1513.8 743.8 1517.0 743.0C1520.3 742.1 1523.5 741.2 1526.8 740.4C1530.0 739.5 1533.3 738.6 1536.5 737.7C1539.7 736.8 1543.0 735.8 1546.2 734.9C1549.4 733.9 1552.6 732.9 1555.8 731.9C1559.0 731.0 1562.2 729.9 1565.4 728.9C1568.6 727.8 1571.8 726.8 1574.9 725.7C1578.1 724.6 1581.3 723.5 1584.4 722.3C1587.5 721.2 1590.6 720.0 1593.8 718.8C1596.9 717.5 1600.0 716.3 1603.0 715.0C1606.1 713.7 1609.2 712.4 1612.2 711.1C1615.2 709.7 1618.3 708.4 1621.3 706.9C1624.3 705.5 1627.2 704.1 1630.2 702.6C1633.2 701.1 1636.1 699.5 1639.0 698.0C1641.9 696.4 1644.8 694.8 1647.7 693.1C1650.5 691.4 1653.4 689.7 1656.2 688.0C1659.0 686.3 1661.8 684.5 1664.6 682.7C1667.4 680.9 1670.2 679.0 1672.9 677.2C1675.7 675.3 1678.4 673.4 1681.1 671.5C1683.8 669.5 1686.5 667.6 1689.2 665.6C1691.9 663.6 1694.5 661.6 1697.2 659.6C1699.8 657.6 1702.5 655.5 1705.1 653.5C1707.7 651.4 1710.4 649.3 1713.0 647.2C1715.6 645.1 1718.2 643.0 1720.7 640.9C1723.3 638.7 1725.9 636.6 1728.5 634.4C1731.1 632.3 1733.6 630.1 1736.2 627.9C1738.8 625.8 1741.3 623.6 1743.9 621.4C1746.4 619.2 1749.0 617.0 1751.5 614.9C1754.0 612.7 1756.6 610.5 1759.1 608.3C1761.7 606.1 1764.2 603.9 1766.7 601.7C1769.3 599.5 1771.8 597.3 1774.4 595.2C1776.9 593.0 1779.4 590.8 1781.9 588.6C1784.5 586.4 1787.0 584.2 1789.5 582.0C1792.0 579.8 1794.6 577.6 1797.1 575.4C1799.6 573.2 1802.1 571.0 1804.7 568.8C1807.2 566.6 1809.7 564.4 1812.2 562.2C1814.7 560.0 1817.2 557.8 1819.8 555.6C1822.3 553.4 1824.8 551.2 1827.3 549.0C1829.8 546.8 1832.3 544.6 1834.9 542.4C1837.4 540.2 1839.9 538.0 1842.4 535.8C1844.9 533.6 1847.4 531.4 1849.9 529.2C1852.5 527.0 1855.0 524.8 1857.5 522.6C1860.0 520.4 1862.5 518.2 1865.0 516.0C1867.5 513.8 1870.1 511.6 1872.6 509.4C1875.1 507.2 1877.6 505.0 1880.1 502.8C1882.7 500.6 1885.2 498.4 1887.7 496.2C1890.2 494.0 1892.8 491.8 1895.3 489.7C1897.8 487.5 1900.3 485.3 1902.9 483.1C1905.4 480.9 1907.9 478.7 1910.4 476.6C1913.0 474.4 1915.5 472.2 1918.1 470.0C1920.6 467.9 1923.1 465.7 1925.7 463.5C1928.2 461.3 1930.8 459.2 1933.3 457.0C1931.3 459.7 1929.3 462.4 1927.3 465.0C1925.3 467.7 1923.3 470.4 1921.3 473.0C1919.3 475.7 1917.3 478.4 1915.3 481.0C1913.3 483.7 1911.2 486.3 1909.2 488.9C1907.1 491.6 1905.1 494.2 1903.1 496.8C1901.0 499.5 1898.9 502.1 1896.9 504.7C1894.8 507.3 1892.7 510.0 1890.7 512.6C1888.6 515.2 1886.5 517.8 1884.4 520.4C1882.3 523.0 1880.2 525.6 1878.1 528.2C1876.0 530.7 1873.9 533.3 1871.8 535.9C1869.7 538.5 1867.6 541.1 1865.5 543.6C1863.3 546.2 1861.2 548.8 1859.1 551.3C1856.9 553.9 1854.8 556.5 1852.7 559.0C1850.5 561.6 1848.4 564.1 1846.2 566.7C1844.1 569.2 1841.9 571.7 1839.7 574.3C1837.6 576.8 1835.4 579.4 1833.2 581.9C1831.1 584.4 1828.9 586.9 1826.7 589.5C1824.5 592.0 1822.3 594.5 1820.2 597.0C1818.0 599.5 1815.8 602.1 1813.6 604.6C1811.4 607.1 1809.2 609.6 1807.0 612.1C1804.8 614.6 1802.6 617.1 1800.4 619.6C1798.1 622.1 1795.9 624.6 1793.7 627.1C1791.5 629.6 1789.3 632.0 1787.1 634.5C1784.8 637.0 1782.6 639.5 1780.4 642.0C1778.1 644.4 1775.9 646.9 1773.7 649.4C1771.4 651.9 1769.2 654.3 1767.0 656.8C1764.7 659.3 1762.5 661.7 1760.2 664.2C1758.0 666.7 1755.7 669.1 1753.5 671.6C1751.2 674.0 1749.0 676.5 1746.7 678.9C1744.5 681.4 1742.2 683.8 1739.9 686.3C1737.7 688.7 1735.4 691.2 1733.1 693.6C1730.9 696.1 1728.6 698.5 1726.3 700.9C1724.0 703.4 1721.8 705.8 1719.5 708.2C1717.2 710.6 1714.9 713.1 1712.6 715.5C1710.3 717.9 1708.0 720.3 1705.7 722.7C1703.4 725.2 1701.1 727.6 1698.8 730.0C1696.5 732.4 1694.2 734.8 1691.9 737.2C1689.6 739.6 1687.3 742.0 1684.9 744.4C1682.6 746.8 1680.3 749.1 1678.0 751.5C1675.6 753.9 1673.3 756.3 1671.0 758.7C1668.6 761.0 1666.3 763.4 1664.0 765.8C1661.6 768.2 1659.3 770.5 1656.9 772.9C1654.6 775.2 1652.2 777.6 1649.9 780.0C1647.5 782.3 1645.1 784.7 1642.8 787.0C1640.4 789.3 1638.0 791.7 1635.6 794.0C1633.3 796.4 1630.9 798.7 1628.5 801.0C1626.1 803.3 1623.7 805.7 1621.3 808.0C1618.9 810.3 1616.5 812.6 1614.1 814.9C1611.7 817.2 1609.3 819.5 1606.9 821.8C1604.5 824.1 1602.1 826.4 1599.6 828.7C1597.2 831.0 1594.8 833.3 1592.3 835.6C1589.9 837.9 1587.5 840.1 1585.0 842.4C1582.6 844.7 1580.2 847.0 1577.7 849.2C1575.3 851.5 1572.8 853.7 1570.4 856.0C1567.9 858.3 1565.4 860.5 1563.0 862.8C1560.5 865.0 1558.0 867.3 1555.6 869.5C1553.1 871.7 1550.6 874.0 1548.1 876.2C1545.7 878.4 1543.2 880.7 1540.7 882.9C1538.2 885.1 1535.7 887.3 1533.2 889.5C1530.7 891.8 1528.2 894.0 1525.7 896.2C1523.2 898.4 1520.7 900.6 1518.2 902.8C1515.7 905.0 1513.2 907.2 1510.6 909.4C1508.1 911.6 1505.6 913.8 1503.1 915.9C1500.5 918.1 1498.0 920.3 1495.5 922.5C1493.0 924.6 1490.4 926.8 1487.9 929.0C1485.3 931.2 1482.8 933.3 1480.3 935.5C1477.7 937.6 1475.2 939.8 1472.6 941.9C1470.1 944.1 1467.5 946.2 1464.9 948.4C1462.4 950.5 1459.8 952.7 1457.3 954.8C1454.7 956.9 1452.1 959.1 1449.5 961.2C1447.0 963.3 1444.4 965.5 1441.8 967.6C1439.2 969.7 1436.7 971.8 1434.1 973.9C1431.5 976.0 1428.9 978.1 1426.3 980.3C1423.7 982.4 1421.1 984.5 1418.6 986.6C1416.0 988.7 1413.4 990.8 1410.8 992.8C1408.2 994.9 1405.6 997.0 1403.0 999.1C1400.3 1001.2 1397.7 1003.3 1395.1 1005.4C1392.5 1007.4 1389.9 1009.5 1387.3 1011.6C1384.7 1013.6 1382.1 1015.7 1379.4 1017.8C1376.8 1019.8 1374.2 1021.9 1371.6 1023.9C1368.9 1026.0 1366.3 1028.1 1363.7 1030.1C1361.1 1032.2 1358.4 1034.2 1355.8 1036.2C1353.2 1038.3 1350.5 1040.3 1347.9 1042.4C1345.2 1044.4 1342.6 1046.4 1340.0 1048.5C1337.3 1050.5 1334.7 1052.5 1332.0 1054.5C1329.4 1056.5 1326.7 1058.6 1324.1 1060.6C1321.4 1062.6 1318.8 1064.6 1316.1 1066.6C1313.5 1068.6 1310.8 1070.6 1308.1 1072.6C1305.5 1074.6 1302.8 1076.6 1300.2 1078.6C1297.5 1080.6 1294.8 1082.6 1292.2 1084.6C1289.5 1086.6 1286.8 1088.6 1284.2 1090.6C1281.5 1092.5 1278.8 1094.5 1276.1 1096.5C1273.5 1098.5 1270.8 1100.5 1268.1 1102.4C1265.4 1104.4 1262.8 1106.4 1260.1 1108.3C1257.4 1110.3 1254.7 1112.3 1252.1 1114.3C1249.4 1116.2 1246.7 1118.2 1244.0 1120.2C1241.3 1122.1 1238.7 1124.1 1236.0 1126.1C1233.3 1128.0 1230.6 1130.0 1227.9 1131.9C1225.3 1133.9 1222.6 1135.9 1219.9 1137.8C1217.2 1139.8 1214.5 1141.8 1211.8 1143.7C1209.2 1145.7 1206.5 1147.6 1203.8 1149.6C1201.1 1151.6 1198.4 1153.5 1195.7 1155.5C1193.1 1157.5 1190.4 1159.4 1187.7 1161.4C1185.0 1163.4 1182.3 1165.3 1179.7 1167.3C1177.0 1169.3 1174.3 1171.3 1171.6 1173.2C1168.9 1175.2 1166.3 1177.2 1163.6 1179.2C1160.9 1181.1 1158.2 1183.1 1155.6 1185.1C1152.9 1187.1 1150.2 1189.1 1147.6 1191.1C1144.9 1193.0 1142.2 1195.0 1139.5 1197.0C1136.9 1199.0 1134.2 1201.0 1131.5 1203.0C1128.9 1205.0 1126.2 1207.0 1123.5 1209.1C1120.9 1211.1 1118.2 1213.1 1115.6 1215.1C1112.9 1217.1 1110.3 1219.1 1107.6 1221.2C1104.9 1223.2 1102.3 1225.2 1099.6 1227.3C1097.0 1229.3 1094.4 1231.3 1091.7 1233.4C1089.1 1235.4 1086.4 1237.5 1083.8 1239.5C1081.1 1241.6 1078.5 1243.7 1075.9 1245.7C1073.2 1247.8 1070.6 1249.9 1068.0 1251.9C1065.3 1254.0 1062.7 1256.1 1060.1 1258.2C1057.4 1260.2 1054.8 1262.3 1052.2 1264.4C1049.5 1266.5 1046.9 1268.5 1044.3 1270.6C1041.6 1272.7 1039.0 1274.7 1036.3 1276.8C1033.6 1278.8 1031.0 1280.9 1028.3 1282.9C1025.6 1285.0 1023.0 1287.0 1020.3 1289.0C1017.6 1291.0 1014.9 1293.0 1012.2 1295.0C1009.5 1297.0 1006.7 1299.0 1004.0 1300.9C1001.3 1302.9 998.5 1304.8 995.8 1306.7C993.0 1308.6 990.2 1310.5 987.4 1312.4C984.6 1314.3 981.8 1316.1 979.0 1318.0C976.2 1319.8 973.3 1321.6 970.5 1323.4C967.6 1325.1 964.7 1326.9 961.8 1328.6C958.9 1330.3 956.0 1332.0 953.0 1333.7C950.0 1335.3 947.1 1337.0 944.1 1338.6C941.1 1340.1 938.0 1341.7 935.0 1343.2C931.9 1344.7 928.9 1346.2 925.8 1347.6C922.7 1349.0 919.6 1350.4 916.4 1351.7C913.3 1353.0 910.2 1354.2 907.0 1355.4C903.9 1356.5 900.7 1357.6 897.6 1358.6C894.4 1359.6 891.3 1360.5 888.1 1361.2C884.9 1362.0 881.8 1362.7 878.6 1363.2C875.5 1363.8 872.3 1364.2 869.1 1364.5C866.0 1364.8 862.9 1365.0 859.8 1365.0C856.7 1365.1 853.6 1364.9 850.5 1364.7C847.4 1364.4 844.3 1364.0 841.3 1363.4C838.3 1362.8 835.3 1362.1 832.3 1361.2C829.3 1360.3 826.3 1359.3 823.4 1358.2C820.5 1357.0 817.6 1355.8 814.8 1354.4C811.9 1353.0 809.1 1351.5 806.3 1349.8C803.5 1348.2 800.7 1346.5 798.1 1344.6C795.3 1342.8 792.7 1340.8 790.0 1338.8C787.4 1336.7 784.8 1334.6 782.3 1332.4C779.7 1330.2 777.2 1327.9 774.8 1325.5C772.3 1323.1 769.9 1320.7 767.5 1318.2C765.1 1315.7 762.7 1313.1 760.4 1310.5C758.1 1307.9 755.8 1305.2 753.6 1302.5C751.3 1299.8 749.1 1297.1 746.9 1294.3C744.7 1291.6 742.5 1288.8 740.4 1286.0C738.2 1283.2 736.1 1280.4 734.0 1277.6C731.9 1274.8 729.9 1272.0 727.8 1269.2C725.8 1266.4 723.8 1263.6 721.8 1260.8C719.8 1258.1 717.8 1255.3 715.8 1252.5C713.8 1249.8 711.9 1247.0 709.9 1244.3C708.0 1241.5 706.1 1238.8 704.2 1236.1C702.3 1233.4 700.4 1230.6 698.4 1227.9C696.5 1225.2 694.7 1222.5 692.8 1219.8C690.9 1217.1 689.0 1214.5 687.1 1211.8C685.2 1209.1 683.3 1206.4 681.4 1203.8C679.5 1201.1 677.6 1198.5 675.7 1195.8C673.8 1193.2 671.9 1190.5 669.9 1187.9C668.0 1185.3 666.1 1182.7 664.1 1180.1C662.2 1177.4 660.2 1174.8 658.2 1172.2C656.2 1169.6 654.2 1167.0 652.2 1164.5C650.2 1161.9 648.1 1159.3 646.1 1156.7C644.0 1154.1 641.9 1151.6 639.8 1149.0C637.7 1146.5 635.5 1144.0 633.4 1141.4C631.2 1138.9 629.0 1136.4 626.8 1133.9C624.6 1131.5 622.4 1129.0 620.1 1126.6C617.8 1124.1 615.5 1121.7 613.2 1119.3C610.9 1116.9 608.5 1114.5 606.1 1112.2C603.7 1109.8 601.3 1107.5 598.9 1105.2C596.4 1103.0 593.9 1100.7 591.4 1098.5C588.9 1096.3 586.3 1094.1 583.8 1091.9C581.2 1089.8 578.5 1087.7 575.9 1085.6C573.2 1083.6 570.5 1081.6 567.8 1079.6C565.1 1077.7 562.3 1075.8 559.5 1074.0C556.6 1072.2 553.8 1070.5 550.9 1068.8C548.0 1067.2 545.1 1065.6 542.1 1064.1C539.1 1062.7 536.0 1061.4 533.0 1060.0Z"/>
<path stroke="#40b4ff" d="M533.0 985.0C533.9 981.8 534.6 978.5 535.8 975.3C537.0 972.3 538.4 969.3 539.9 966.4C541.5 963.5 543.3 960.7 545.2 958.1C547.1 955.4 549.2 952.9 551.4 950.4C553.7 948.0 556.0 945.6 558.5 943.3C560.9 941.0 563.5 938.8 566.1 936.7C568.8 934.6 571.5 932.5 574.3 930.5C577.0 928.5 579.8 926.6 582.7 924.7C585.5 922.8 588.4 921.0 591.3 919.2C594.2 917.5 597.1 915.8 600.1 914.1C603.0 912.4 606.0 910.8 609.0 909.3C612.0 907.7 615.0 906.2 618.0 904.8C621.1 903.3 624.1 901.9 627.2 900.6C630.2 899.2 633.3 897.9 636.4 896.7C639.5 895.4 642.6 894.2 645.8 893.1C648.9 891.9 652.0 890.8 655.2 889.7C658.3 888.7 661.5 887.6 664.7 886.7C667.8 885.7 671.0 884.7 674.2 883.8C677.4 882.9 680.6 882.1 683.8 881.2C687.0 880.4 690.2 879.6 693.4 878.9C696.6 878.1 699.9 877.4 703.1 876.7C706.4 876.0 709.6 875.4 712.8 874.7C716.1 874.1 719.4 873.5 722.6 872.9C725.9 872.3 729.2 871.8 732.4 871.3C735.7 870.7 739.0 870.2 742.3 869.7C745.6 869.3 748.9 868.8 752.1 868.4C755.4 867.9 758.7 867.5 762.0 867.1C765.3 866.7 768.6 866.3 772.0 865.9C775.3 865.5 778.6 865.1 781.9 864.8C785.2 864.4 788.5 864.1 791.8 863.8C795.1 863.4 798.4 863.1 801.8 862.8C805.1 862.4 808.4 862.1 811.7 861.8C815.0 861.5 818.3 861.2 821.6 860.9C825.0 860.6 828.3 860.3 831.6 860.0C834.9 859.7 838.2 859.4 841.6 859.2C844.9 858.9 848.2 858.6 851.5 858.3C854.8 858.1 858.1 857.8 861.5 857.6C864.8 857.3 868.1 857.0 871.4 856.8C874.7 856.5 878.1 856.3 881.4 856.1C884.7 855.8 888.0 855.6 891.3 855.4C894.7 855.1 898.0 854.9 901.3 854.7C904.6 854.5 908.0 854.2 911.3 854.0C914.6 853.8 917.9 853.6 921.2 853.4C924.6 853.2 927.9 853.0 931.2 852.8C934.5 852.6 937.9 852.4 941.2 852.2C944.5 852.0 947.8 851.8 951.2 851.6C954.5 851.4 957.8 851.3 961.1 851.1C964.5 850.9 967.8 850.7 971.1 850.5C974.4 850.4 977.8 850.2 981.1 850.0C984.4 849.9 987.8 849.7 991.1 849.5C994.4 849.4 997.7 849.2 1001.1 849.0C1004.4 848.9 1007.7 848.7 1011.1 848.6C1014.4 848.4 1017.7 848.3 1021.0 848.1C1024.4 848.0 1027.7 847.8 1031.0 847.7C1034.4 847.5 1037.7 847.4 1041.0 847.2C1044.4 847.1 1047.7 846.9 1051.0 846.8C1054.4 846.6 1057.7 846.5 1061.0 846.4C1064.3 846.2 1067.7 846.1 1071.0 845.9C1074.3 845.8 1077.7 845.7 1081.0 845.5C1084.3 845.4 1087.7 845.3 1091.0 845.1C1094.3 845.0 1097.7 844.9 1101.0 844.7C1104.3 844.6 1107.7 844.4 1111.0 844.3C1114.3 844.2 1117.7 844.0 1121.0 843.9C1124.4 843.8 1127.7 843.6 1131.0 843.5C1134.4 843.4 1137.7 843.2 1141.0 843.1C1144.4 843.0 1147.7 842.8 1151.0 842.7C1154.4 842.5 1157.7 842.4 1161.0 842.3C1164.4 842.1 1167.7 842.0 1171.1 841.8C1174.4 841.7 1177.7 841.6 1181.1 841.4C1184.4 841.3 1187.7 841.1 1191.1 841.0C1194.4 840.8 1197.8 840.7 1201.1 840.5C1204.4 840.4 1207.8 840.2 1211.1 840.1C1214.4 839.9 1217.8 839.8 1221.1 839.6C1224.5 839.5 1227.8 839.3 1231.1 839.1C1234.5 839.0 1237.8 838.8 1241.2 838.7C1244.5 838.5 1247.8 838.3 1251.2 838.2C1254.5 838.0 1257.9 837.8 1261.2 837.6C1264.5 837.5 1267.9 837.3 1271.2 837.1C1274.6 836.9 1277.9 836.7 1281.2 836.5C1284.6 836.4 1287.9 836.2 1291.3 836.0C1294.6 835.8 1298.0 835.6 1301.3 835.4C1304.6 835.2 1308.0 835.0 1311.3 834.8C1314.7 834.5 1318.0 834.3 1321.3 834.1C1324.7 833.9 1328.0 833.7 1331.4 833.5C1334.7 833.3 1338.0 833.0 1341.4 832.8C1344.7 832.6 1348.1 832.4 1351.4 832.1C1354.7 831.9 1358.1 831.7 1361.4 831.5C1364.7 831.3 1368.1 831.0 1371.4 830.8C1374.8 830.6 1378.1 830.4 1381.4 830.1C1384.7 829.9 1388.1 829.7 1391.4 829.5C1394.7 829.2 1398.1 829.0 1401.4 828.8C1404.7 828.6 1408.0 828.4 1411.4 828.2C1414.7 827.9 1418.0 827.7 1421.3 827.5C1424.6 827.3 1427.9 827.1 1431.3 826.9C1434.6 826.7 1437.9 826.5 1441.2 826.3C1444.5 826.1 1447.8 825.9 1451.1 825.7C1454.4 825.6 1457.7 825.4 1461.0 825.2C1464.3 825.0 1467.6 824.8 1470.9 824.6C1474.2 824.5 1477.5 824.3 1480.7 824.1C1484.0 823.9 1487.3 823.6 1490.6 823.4C1493.9 823.2 1497.1 822.9 1500.4 822.7C1503.7 822.4 1506.9 822.1 1510.2 821.8C1513.5 821.5 1516.7 821.1 1520.0 820.8C1523.2 820.4 1526.5 820.0 1529.7 819.5C1533.0 819.1 1536.2 818.6 1539.5 818.1C1542.7 817.6 1545.9 817.0 1549.2 816.4C1552.4 815.8 1555.6 815.2 1558.8 814.5C1562.1 813.8 1565.3 813.0 1568.5 812.2C1571.7 811.4 1574.9 810.5 1578.1 809.6C1581.3 808.7 1584.5 807.7 1587.7 806.7C1590.9 805.6 1594.1 804.5 1597.2 803.4C1600.4 802.3 1603.6 801.1 1606.7 799.8C1609.9 798.6 1613.1 797.3 1616.2 796.0C1619.4 794.7 1622.5 793.4 1625.7 792.0C1628.8 790.7 1631.9 789.3 1635.1 787.9C1638.2 786.5 1641.3 785.0 1644.4 783.6C1647.6 782.2 1650.7 780.7 1653.8 779.3C1656.9 777.8 1660.0 776.4 1663.1 774.9C1666.1 773.4 1669.2 772.0 1672.3 770.6C1675.4 769.1 1678.4 767.7 1681.5 766.3C1684.6 764.9 1687.6 763.5 1690.7 762.1C1693.7 760.7 1696.8 759.4 1699.8 758.0C1702.8 756.7 1705.9 755.4 1708.9 754.1C1712.0 752.8 1715.0 751.6 1718.1 750.3C1721.1 749.1 1724.1 747.9 1727.2 746.8C1730.2 745.6 1733.3 744.5 1736.4 743.4C1739.4 742.3 1742.5 741.2 1745.6 740.2C1748.6 739.2 1751.7 738.2 1754.8 737.3C1757.9 736.3 1761.0 735.4 1764.2 734.6C1767.3 733.7 1770.4 732.9 1773.6 732.2C1776.7 731.4 1779.9 730.7 1783.1 730.1C1786.3 729.4 1789.5 728.8 1792.7 728.3C1796.0 727.7 1799.2 727.2 1802.5 726.8C1805.8 726.3 1809.1 726.0 1812.4 725.6C1815.7 725.3 1819.1 725.0 1822.4 724.8C1825.8 724.5 1829.1 724.3 1832.5 724.2C1835.9 724.0 1839.3 723.9 1842.6 723.8C1846.0 723.7 1849.4 723.6 1852.8 723.5C1856.2 723.5 1859.6 723.5 1863.0 723.5C1866.5 723.5 1869.9 723.5 1873.3 723.5C1876.7 723.5 1880.1 723.6 1883.5 723.6C1886.8 723.6 1890.2 723.7 1893.6 723.7C1897.0 723.8 1900.3 723.8 1903.7 723.8C1907.0 723.9 1910.3 723.9 1913.7 723.9C1917.0 723.9 1920.3 723.9 1923.6 723.9C1926.8 723.9 1930.1 723.8 1933.3 723.8C1932.6 727.0 1932.2 730.4 1931.3 733.6C1930.5 736.8 1929.5 739.9 1928.3 743.0C1927.1 746.0 1925.8 749.0 1924.3 751.9C1922.8 754.9 1921.2 757.7 1919.5 760.5C1917.7 763.3 1915.9 766.0 1913.9 768.7C1912.0 771.4 1909.9 774.0 1907.8 776.6C1905.7 779.2 1903.5 781.7 1901.3 784.2C1899.0 786.7 1896.7 789.2 1894.4 791.6C1892.0 794.0 1889.6 796.4 1887.1 798.8C1884.7 801.1 1882.2 803.5 1879.7 805.8C1877.2 808.1 1874.7 810.4 1872.2 812.6C1869.7 814.9 1867.1 817.1 1864.6 819.4C1862.0 821.6 1859.5 823.8 1856.9 825.9C1854.3 828.1 1851.7 830.3 1849.1 832.4C1846.5 834.5 1843.9 836.6 1841.2 838.7C1838.6 840.8 1835.9 842.8 1833.3 844.8C1830.6 846.9 1827.9 848.9 1825.2 850.9C1822.5 852.8 1819.8 854.8 1817.1 856.7C1814.4 858.6 1811.6 860.5 1808.9 862.4C1806.1 864.3 1803.3 866.1 1800.6 867.9C1797.8 869.7 1795.0 871.5 1792.1 873.3C1789.3 875.0 1786.5 876.7 1783.6 878.4C1780.8 880.1 1777.9 881.8 1775.0 883.4C1772.1 885.1 1769.2 886.7 1766.3 888.2C1763.4 889.8 1760.5 891.4 1757.5 892.9C1754.5 894.4 1751.6 895.9 1748.6 897.3C1745.6 898.8 1742.6 900.2 1739.6 901.5C1736.5 902.9 1733.5 904.3 1730.4 905.6C1727.4 906.9 1724.3 908.2 1721.2 909.4C1718.1 910.7 1715.0 911.9 1711.9 913.1C1708.8 914.3 1705.6 915.4 1702.5 916.5C1699.3 917.7 1696.2 918.7 1693.0 919.8C1689.8 920.9 1686.6 921.9 1683.5 922.9C1680.3 923.9 1677.1 924.9 1673.8 925.9C1670.6 926.8 1667.4 927.7 1664.2 928.6C1661.0 929.5 1657.7 930.4 1654.5 931.2C1651.2 932.1 1648.0 932.9 1644.7 933.7C1641.5 934.5 1638.2 935.3 1635.0 936.1C1631.7 936.9 1628.4 937.6 1625.2 938.4C1621.9 939.1 1618.6 939.9 1615.4 940.6C1612.1 941.3 1608.8 942.1 1605.6 942.8C1602.3 943.5 1599.0 944.3 1595.8 945.0C1592.5 945.7 1589.2 946.5 1586.0 947.2C1582.7 948.0 1579.5 948.7 1576.2 949.5C1573.0 950.3 1569.7 951.0 1566.5 951.8C1563.3 952.7 1560.0 953.5 1556.8 954.3C1553.6 955.2 1550.4 956.0 1547.1 956.9C1543.9 957.8 1540.7 958.7 1537.5 959.7C1534.4 960.6 1531.2 961.6 1528.0 962.6C1524.8 963.6 1521.7 964.6 1518.5 965.7C1515.4 966.8 1512.2 967.8 1509.1 968.9C1505.9 970.0 1502.8 971.2 1499.7 972.3C1496.6 973.5 1493.4 974.6 1490.3 975.8C1487.2 977.0 1484.1 978.2 1481.0 979.4C1477.9 980.6 1474.8 981.8 1471.7 983.1C1468.6 984.3 1465.5 985.6 1462.4 986.8C1459.3 988.1 1456.3 989.4 1453.2 990.6C1450.1 991.9 1447.0 993.2 1443.9 994.5C1440.8 995.8 1437.8 997.1 1434.7 998.4C1431.6 999.7 1428.5 1001.0 1425.4 1002.2C1422.4 1003.5 1419.3 1004.8 1416.2 1006.1C1413.1 1007.4 1410.0 1008.7 1406.9 1010.0C1403.8 1011.2 1400.7 1012.5 1397.6 1013.8C1394.5 1015.0 1391.4 1016.3 1388.3 1017.5C1385.2 1018.8 1382.1 1020.0 1379.0 1021.2C1375.9 1022.4 1372.8 1023.6 1369.6 1024.8C1366.5 1026.0 1363.4 1027.2 1360.2 1028.3C1357.1 1029.5 1353.9 1030.6 1350.8 1031.7C1347.6 1032.8 1344.5 1033.9 1341.3 1035.0C1338.1 1036.0 1334.9 1037.1 1331.8 1038.1C1328.6 1039.1 1325.4 1040.1 1322.2 1041.1C1319.0 1042.0 1315.8 1043.0 1312.5 1043.9C1309.3 1044.8 1306.1 1045.7 1302.9 1046.6C1299.6 1047.5 1296.4 1048.3 1293.2 1049.2C1289.9 1050.0 1286.7 1050.8 1283.4 1051.6C1280.2 1052.4 1276.9 1053.1 1273.6 1053.9C1270.4 1054.6 1267.1 1055.3 1263.8 1056.0C1260.6 1056.7 1257.3 1057.4 1254.0 1058.0C1250.7 1058.6 1247.4 1059.2 1244.1 1059.8C1240.8 1060.4 1237.5 1061.0 1234.2 1061.5C1230.9 1062.1 1227.6 1062.6 1224.3 1063.0C1221.0 1063.5 1217.7 1064.0 1214.4 1064.4C1211.1 1064.8 1207.8 1065.3 1204.5 1065.6C1201.2 1066.0 1197.8 1066.4 1194.5 1066.7C1191.2 1067.0 1187.9 1067.3 1184.6 1067.6C1181.2 1067.9 1177.9 1068.1 1174.6 1068.3C1171.3 1068.5 1167.9 1068.7 1164.6 1068.9C1161.3 1069.1 1158.0 1069.2 1154.6 1069.3C1151.3 1069.4 1148.0 1069.5 1144.6 1069.5C1141.3 1069.6 1138.0 1069.6 1134.7 1069.6C1131.3 1069.6 1128.0 1069.6 1124.7 1069.5C1121.3 1069.4 1118.0 1069.4 1114.7 1069.2C1111.4 1069.1 1108.1 1069.0 1104.7 1068.8C1101.4 1068.6 1098.1 1068.4 1094.8 1068.2C1091.5 1067.9 1088.1 1067.7 1084.8 1067.4C1081.5 1067.1 1078.2 1066.7 1074.9 1066.4C1071.6 1066.0 1068.3 1065.6 1065.0 1065.2C1061.7 1064.8 1058.4 1064.3 1055.1 1063.9C1051.8 1063.4 1048.5 1062.9 1045.2 1062.3C1042.0 1061.8 1038.7 1061.2 1035.4 1060.6C1032.1 1060.0 1028.8 1059.4 1025.6 1058.7C1022.3 1058.0 1019.1 1057.3 1015.8 1056.6C1012.5 1055.9 1009.3 1055.1 1006.0 1054.3C1002.8 1053.5 999.6 1052.7 996.3 1051.9C993.1 1051.0 989.8 1050.2 986.6 1049.3C983.4 1048.4 980.2 1047.5 976.9 1046.6C973.7 1045.6 970.5 1044.7 967.3 1043.7C964.0 1042.8 960.8 1041.8 957.6 1040.8C954.4 1039.8 951.2 1038.8 948.0 1037.8C944.8 1036.8 941.6 1035.8 938.4 1034.8C935.2 1033.8 931.9 1032.7 928.7 1031.7C925.5 1030.7 922.3 1029.7 919.1 1028.6C915.9 1027.6 912.7 1026.6 909.5 1025.6C906.3 1024.5 903.1 1023.5 899.9 1022.5C896.7 1021.5 893.5 1020.5 890.3 1019.5C887.1 1018.5 883.9 1017.5 880.7 1016.5C877.5 1015.5 874.3 1014.6 871.0 1013.6C867.8 1012.7 864.6 1011.8 861.4 1010.9C858.2 1010.0 855.0 1009.1 851.7 1008.2C848.5 1007.3 845.3 1006.5 842.1 1005.7C838.8 1004.8 835.6 1004.0 832.4 1003.3C829.1 1002.5 825.9 1001.8 822.6 1001.1C819.4 1000.4 816.1 999.7 812.9 999.1C809.6 998.4 806.4 997.8 803.1 997.2C799.8 996.7 796.6 996.2 793.3 995.7C790.0 995.2 786.7 994.7 783.4 994.3C780.2 993.9 776.9 993.5 773.6 993.1C770.3 992.8 767.0 992.4 763.7 992.1C760.4 991.8 757.1 991.6 753.7 991.3C750.4 991.0 747.1 990.8 743.8 990.6C740.5 990.4 737.1 990.2 733.8 990.0C730.5 989.8 727.2 989.6 723.8 989.5C720.5 989.3 717.2 989.2 713.8 989.1C710.5 988.9 707.1 988.8 703.8 988.7C700.5 988.5 697.1 988.4 693.8 988.3C690.4 988.2 687.1 988.1 683.7 988.0C680.4 987.8 677.0 987.7 673.7 987.6C670.3 987.5 666.9 987.4 663.6 987.3C660.2 987.2 656.9 987.1 653.5 987.0C650.2 986.9 646.8 986.8 643.4 986.7C640.1 986.6 636.7 986.5 633.4 986.4C630.0 986.3 626.7 986.2 623.3 986.1C619.9 986.0 616.6 985.9 613.2 985.9C609.9 985.8 606.5 985.7 603.2 985.6C599.8 985.5 596.5 985.5 593.1 985.4C589.7 985.3 586.4 985.3 583.0 985.2C579.7 985.2 576.4 985.1 573.0 985.1C569.7 985.1 566.3 985.0 563.0 985.0C559.6 985.0 556.3 985.0 553.0 984.9C549.6 984.9 546.3 984.9 543.0 984.9C539.7 985.0 536.3 985.0 533.0 985.0Z"/>
</g>
<rect x="311.9" y="52.9" width="1664.0" height="1336.8" fill="none" stroke="#000" stroke-width="6.8"/>
<g class="a">
<path d="M311.9 1336.0H282.7"/>
<path d="M311.9 1229.1H295.7"/>
<path d="M311.9 1122.2H282.7"/>
<path d="M311.9 1015.2H295.7"/>
<path d="M311.9 908.3H282.7"/>
<path d="M311.9 801.4H295.7"/>
<path d="M311.9 694.4H282.7"/>
<path d="M311.9 587.5H295.7"/>
<path d="M311.9 480.6H282.7"/>
<path d="M311.9 373.6H295.7"/>
<path d="M311.9 266.7H282.7"/>
<path d="M311.9 159.8H295.7"/>
<path d="M311.9 52.9H282.7"/>
<path d="M311.7 1389.7V1405.9"/>
<path d="M486.9 1389.7V1418.9"/>
<path d="M662.1 1389.7V1405.9"/>
<path d="M837.2 1389.7V1418.9"/>
<path d="M1012.4 1389.7V1405.9"/>
<path d="M1187.5 1389.7V1418.9"/>
<path d="M1362.7 1389.7V1405.9"/>
<path d="M1537.9 1389.7V1418.9"/>
<path d="M1713.0 1389.7V1405.9"/>
<path d="M1888.2 1389.7V1418.9"/>
</g>
<g class="t">
<text transform="translate(267.50 1356.92) scale(1.0 1.04)" text-anchor="end">−40</text>
<text transform="translate(267.50 1143.06) scale(1.0 1.04)" text-anchor="end">−20</text>
<text transform="translate(267.50 929.20) scale(1.0 1.04)" text-anchor="end">0</text>
<text transform="translate(267.50 715.34) scale(1.0 1.04)" text-anchor="end">20</text>
<text transform="translate(267.50 501.48) scale(1.0 1.04)" text-anchor="end">40</text>
<text transform="translate(267.50 287.62) scale(1.0 1.04)" text-anchor="end">60</text>
<text transform="translate(267.50 73.76) scale(1.0 1.04)" text-anchor="end">80</text>
<text transform="translate(486.90 1488.60) scale(1.0 1.04)" text-anchor="middle">0.8</text>
<text transform="translate(837.22 1488.60) scale(1.0 1.04)" text-anchor="middle">1.0</text>
<text transform="translate(1187.54 1488.60) scale(1.0 1.04)" text-anchor="middle">1.2</text>
<text transform="translate(1537.86 1488.60) scale(1.0 1.04)" text-anchor="middle">1.4</text>
<text transform="translate(1888.18 1488.60) scale(1.0 1.04)" text-anchor="middle">1.6</text>
</g>
<text class="x" transform="translate(1145.40 1610.20) scale(0.955 1.02)" text-anchor="middle">E (V vs RHE)</text>
<text class="x" transform="translate(87.80 687.60) rotate(-90) scale(0.962 0.98)" text-anchor="middle">J (mA cm<tspan dy="-37.7" font-size="48">−2</tspan><tspan dy="37.7">)</tspan></text>
<g>
<rect fill="#000000" x="327.0" y="85.7" width="152.0" height="10" rx="5"/>
<rect fill="#ff0000" x="327.0" y="181.0" width="152.0" height="10" rx="5"/>
<rect fill="#0000ff" x="327.0" y="276.3" width="152.0" height="10" rx="5"/>
<rect fill="#ff00ff" x="327.0" y="371.6" width="152.0" height="10" rx="5"/>
<rect fill="#008000" x="327.0" y="466.9" width="152.0" height="10" rx="5"/>
<rect fill="#000080" x="327.0" y="562.2" width="152.0" height="10" rx="5"/>
<rect fill="#33ff33" x="327.0" y="657.5" width="152.0" height="10" rx="5"/>
<rect fill="#ff8000" x="327.0" y="752.8" width="152.0" height="10" rx="5"/>
<rect fill="#40b4ff" x="327.0" y="848.1" width="152.0" height="10" rx="5"/>
</g>
<g class="l">
<text transform="translate(490.00 112.60) scale(0.98 1.04)">Ni<tspan class="s" dy="20.9">10</tspan><tspan dy="-20.9">Mo</tspan><tspan class="s" dy="20.9">90</tspan><tspan dy="-20.9">-CK</tspan></text>
<text transform="translate(490.00 207.90) scale(0.98 1.04)">Ni<tspan class="s" dy="20.9">30</tspan><tspan dy="-20.9">Mo</tspan><tspan class="s" dy="20.9">70</tspan><tspan dy="-20.9">-CK</tspan></text>
<text transform="translate(490.00 303.20) scale(0.98 1.04)">Ni<tspan class="s" dy="20.9">50</tspan><tspan dy="-20.9">Mo</tspan><tspan class="s" dy="20.9">50</tspan><tspan dy="-20.9">-CK</tspan></text>
<text transform="translate(490.00 398.50) scale(0.98 1.04)">Ni<tspan class="s" dy="20.9">70</tspan><tspan dy="-20.9">Mo</tspan><tspan class="s" dy="20.9">30</tspan><tspan dy="-20.9">-CK</tspan></text>
<text transform="translate(490.00 493.80) scale(0.98 1.04)">Ni<tspan class="s" dy="20.9">80</tspan><tspan dy="-20.9">Mo</tspan><tspan class="s" dy="20.9">20</tspan><tspan dy="-20.9">-CK</tspan></text>
<text transform="translate(490.00 589.10) scale(0.98 1.04)">Ni<tspan class="s" dy="20.9">85</tspan><tspan dy="-20.9">Mo</tspan><tspan class="s" dy="20.9">15</tspan><tspan dy="-20.9">-CK</tspan></text>
<text transform="translate(490.00 684.40) scale(0.98 1.04)">Ni<tspan class="s" dy="20.9">90</tspan><tspan dy="-20.9">Mo</tspan><tspan class="s" dy="20.9">10</tspan><tspan dy="-20.9">-CK</tspan></text>
<text transform="translate(490.00 779.70) scale(0.98 1.04)">Ni<tspan class="s" dy="20.9">95</tspan><tspan dy="-20.9">Mo</tspan><tspan class="s" dy="20.9">5</tspan><tspan dy="-20.9">-CK</tspan></text>
<text transform="translate(490.00 875.00) scale(0.98 1.04)">Ni-CK</text>
</g>
</svg></body></html>
